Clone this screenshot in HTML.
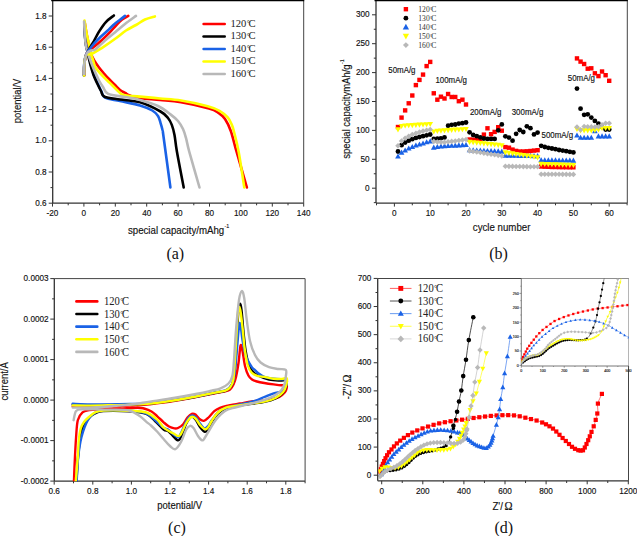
<!DOCTYPE html>
<html><head><meta charset="utf-8"><style>
html,body{margin:0;padding:0;background:#fff;}
svg{display:block;}
text[font-family="Liberation Sans"]{stroke:#111;stroke-width:0.14px;}
</style></head><body>
<svg width="637" height="536" viewBox="0 0 637 536">
<rect width="637" height="536" fill="#fff"/>
<line x1="52.7" y1="0.0" x2="52.7" y2="203.1" stroke="#333333" stroke-width="1.3"/><line x1="52.7" y1="203.1" x2="303.7" y2="203.1" stroke="#333333" stroke-width="1.3"/><line x1="303.7" y1="0.0" x2="303.7" y2="203.1" stroke="#444" stroke-width="1"/><line x1="51.2" y1="0" x2="304.2" y2="0" stroke="#000" stroke-width="2.4"/><line x1="48.7" y1="203.20" x2="52.7" y2="203.20" stroke="#333333" stroke-width="1"/><text transform="translate(46.60 205.80) scale(1 1.08)" font-family="Liberation Sans" font-size="8.2" text-anchor="end" fill="#111">0.6</text><line x1="48.7" y1="172.00" x2="52.7" y2="172.00" stroke="#333333" stroke-width="1"/><text transform="translate(46.60 174.60) scale(1 1.08)" font-family="Liberation Sans" font-size="8.2" text-anchor="end" fill="#111">0.8</text><line x1="48.7" y1="140.80" x2="52.7" y2="140.80" stroke="#333333" stroke-width="1"/><text transform="translate(46.60 143.40) scale(1 1.08)" font-family="Liberation Sans" font-size="8.2" text-anchor="end" fill="#111">1.0</text><line x1="48.7" y1="109.60" x2="52.7" y2="109.60" stroke="#333333" stroke-width="1"/><text transform="translate(46.60 112.20) scale(1 1.08)" font-family="Liberation Sans" font-size="8.2" text-anchor="end" fill="#111">1.2</text><line x1="48.7" y1="78.40" x2="52.7" y2="78.40" stroke="#333333" stroke-width="1"/><text transform="translate(46.60 81.00) scale(1 1.08)" font-family="Liberation Sans" font-size="8.2" text-anchor="end" fill="#111">1.4</text><line x1="48.7" y1="47.20" x2="52.7" y2="47.20" stroke="#333333" stroke-width="1"/><text transform="translate(46.60 49.80) scale(1 1.08)" font-family="Liberation Sans" font-size="8.2" text-anchor="end" fill="#111">1.6</text><line x1="48.7" y1="16.00" x2="52.7" y2="16.00" stroke="#333333" stroke-width="1"/><text transform="translate(46.60 18.60) scale(1 1.08)" font-family="Liberation Sans" font-size="8.2" text-anchor="end" fill="#111">1.8</text><line x1="50.5" y1="187.60" x2="52.7" y2="187.60" stroke="#333333" stroke-width="1"/><line x1="50.5" y1="156.40" x2="52.7" y2="156.40" stroke="#333333" stroke-width="1"/><line x1="50.5" y1="125.20" x2="52.7" y2="125.20" stroke="#333333" stroke-width="1"/><line x1="50.5" y1="94.00" x2="52.7" y2="94.00" stroke="#333333" stroke-width="1"/><line x1="50.5" y1="62.80" x2="52.7" y2="62.80" stroke="#333333" stroke-width="1"/><line x1="50.5" y1="31.60" x2="52.7" y2="31.60" stroke="#333333" stroke-width="1"/><line x1="52.50" y1="203.1" x2="52.50" y2="206.6" stroke="#333333" stroke-width="1"/><text transform="translate(52.50 216.30) scale(1 1.08)" font-family="Liberation Sans" font-size="8.2" text-anchor="middle" fill="#111">-20</text><line x1="83.90" y1="203.1" x2="83.90" y2="206.6" stroke="#333333" stroke-width="1"/><text transform="translate(83.90 216.30) scale(1 1.08)" font-family="Liberation Sans" font-size="8.2" text-anchor="middle" fill="#111">0</text><line x1="115.30" y1="203.1" x2="115.30" y2="206.6" stroke="#333333" stroke-width="1"/><text transform="translate(115.30 216.30) scale(1 1.08)" font-family="Liberation Sans" font-size="8.2" text-anchor="middle" fill="#111">20</text><line x1="146.70" y1="203.1" x2="146.70" y2="206.6" stroke="#333333" stroke-width="1"/><text transform="translate(146.70 216.30) scale(1 1.08)" font-family="Liberation Sans" font-size="8.2" text-anchor="middle" fill="#111">40</text><line x1="178.10" y1="203.1" x2="178.10" y2="206.6" stroke="#333333" stroke-width="1"/><text transform="translate(178.10 216.30) scale(1 1.08)" font-family="Liberation Sans" font-size="8.2" text-anchor="middle" fill="#111">60</text><line x1="209.50" y1="203.1" x2="209.50" y2="206.6" stroke="#333333" stroke-width="1"/><text transform="translate(209.50 216.30) scale(1 1.08)" font-family="Liberation Sans" font-size="8.2" text-anchor="middle" fill="#111">80</text><line x1="240.90" y1="203.1" x2="240.90" y2="206.6" stroke="#333333" stroke-width="1"/><text transform="translate(240.90 216.30) scale(1 1.08)" font-family="Liberation Sans" font-size="8.2" text-anchor="middle" fill="#111">100</text><line x1="272.30" y1="203.1" x2="272.30" y2="206.6" stroke="#333333" stroke-width="1"/><text transform="translate(272.30 216.30) scale(1 1.08)" font-family="Liberation Sans" font-size="8.2" text-anchor="middle" fill="#111">120</text><line x1="303.70" y1="203.1" x2="303.70" y2="206.6" stroke="#333333" stroke-width="1"/><text transform="translate(303.70 216.30) scale(1 1.08)" font-family="Liberation Sans" font-size="8.2" text-anchor="middle" fill="#111">140</text><line x1="68.20" y1="203.1" x2="68.20" y2="205.29999999999998" stroke="#333333" stroke-width="1"/><line x1="99.60" y1="203.1" x2="99.60" y2="205.29999999999998" stroke="#333333" stroke-width="1"/><line x1="131.00" y1="203.1" x2="131.00" y2="205.29999999999998" stroke="#333333" stroke-width="1"/><line x1="162.40" y1="203.1" x2="162.40" y2="205.29999999999998" stroke="#333333" stroke-width="1"/><line x1="193.80" y1="203.1" x2="193.80" y2="205.29999999999998" stroke="#333333" stroke-width="1"/><line x1="225.20" y1="203.1" x2="225.20" y2="205.29999999999998" stroke="#333333" stroke-width="1"/><line x1="256.60" y1="203.1" x2="256.60" y2="205.29999999999998" stroke="#333333" stroke-width="1"/><line x1="288.00" y1="203.1" x2="288.00" y2="205.29999999999998" stroke="#333333" stroke-width="1"/><text transform="translate(21.4 100.9) rotate(-90) scale(1 1.08)" font-family="Liberation Sans" font-size="9.45" text-anchor="middle" fill="#111">potential/V</text><text transform="translate(127.9 233.6) scale(1 1.08)" font-family="Liberation Sans" font-size="9.7" fill="#111">special capacity/mAhg<tspan font-size="5.4" dy="-5.3" dx="0.3" style="stroke-width:0.1" fill="#111">-1</tspan></text><text x="175.30" y="259.30" font-family="Liberation Serif" font-size="16" text-anchor="middle" fill="#111">(a)</text><path d="M84.80,23.00 C85.13,25.00 86.07,31.17 86.80,35.00 C87.53,38.83 88.50,42.83 89.20,46.00 C89.90,49.17 90.12,51.50 91.00,54.00 C91.88,56.50 93.17,58.75 94.50,61.00 C95.83,63.25 97.42,65.42 99.00,67.50 C100.58,69.58 102.33,71.58 104.00,73.50 C105.67,75.42 107.17,77.08 109.00,79.00 C110.83,80.92 113.17,83.17 115.00,85.00 C116.83,86.83 118.30,88.67 120.00,90.00 C121.70,91.33 123.53,92.08 125.20,93.00 C126.87,93.92 127.53,94.63 130.00,95.50 C132.47,96.37 135.00,97.45 140.00,98.20 C145.00,98.95 153.17,99.32 160.00,100.00 C166.83,100.68 172.83,100.88 181.00,102.30 C189.17,103.72 202.75,106.75 209.00,108.50 C215.25,110.25 215.83,111.05 218.50,112.80 C221.17,114.55 222.95,115.97 225.00,119.00 C227.05,122.03 228.88,125.58 230.80,131.00 C232.72,136.42 233.82,142.08 236.50,151.50 C239.18,160.92 245.17,181.50 246.90,187.50" fill="none" stroke="#ff0000" stroke-width="2.6" stroke-linecap="round" stroke-linejoin="round"/><path d="M84.30,22.00 C84.40,24.17 84.62,31.17 84.90,35.00 C85.18,38.83 85.55,42.17 86.00,45.00 C86.45,47.83 87.02,49.67 87.60,52.00 C88.18,54.33 88.85,56.50 89.50,59.00 C90.15,61.50 90.75,64.33 91.50,67.00 C92.25,69.67 93.00,72.33 94.00,75.00 C95.00,77.67 96.25,80.25 97.50,83.00 C98.75,85.75 100.25,89.07 101.50,91.50 C102.75,93.93 101.92,96.02 105.00,97.60 C108.08,99.18 114.17,99.70 120.00,101.00 C125.83,102.30 134.62,103.82 140.00,105.40 C145.38,106.98 149.30,108.73 152.30,110.50 C155.30,112.27 156.63,113.95 158.00,116.00 C159.37,118.05 159.75,120.47 160.50,122.80 C161.25,125.13 161.98,127.60 162.50,130.00 C163.02,132.40 162.28,127.62 163.60,137.20 C164.92,146.78 169.27,179.12 170.40,187.50" fill="none" stroke="#1a62e6" stroke-width="2.6" stroke-linecap="round" stroke-linejoin="round"/><path d="M84.30,22.00 C84.40,24.17 84.62,31.17 84.90,35.00 C85.18,38.83 85.55,42.17 86.00,45.00 C86.45,47.83 87.10,49.67 87.60,52.00 C88.10,54.33 88.43,56.50 89.00,59.00 C89.57,61.50 90.25,64.33 91.00,67.00 C91.75,69.67 92.50,72.33 93.50,75.00 C94.50,77.67 95.75,80.33 97.00,83.00 C98.25,85.67 99.75,88.72 101.00,91.00 C102.25,93.28 101.33,95.28 104.50,96.70 C107.67,98.12 114.08,98.57 120.00,99.50 C125.92,100.43 133.25,100.30 140.00,102.30 C146.75,104.30 155.83,108.88 160.50,111.50 C165.17,114.12 166.12,115.77 168.00,118.00 C169.88,120.23 170.72,122.07 171.80,124.90 C172.88,127.73 173.65,130.57 174.50,135.00 C175.35,139.43 175.37,142.75 176.90,151.50 C178.43,160.25 182.57,181.50 183.70,187.50" fill="none" stroke="#000000" stroke-width="2.6" stroke-linecap="round" stroke-linejoin="round"/><path d="M84.50,20.50 C84.83,22.58 85.75,29.08 86.50,33.00 C87.25,36.92 88.28,40.67 89.00,44.00 C89.72,47.33 90.13,50.33 90.80,53.00 C91.47,55.67 92.20,57.58 93.00,60.00 C93.80,62.42 94.08,64.93 95.60,67.50 C97.12,70.07 99.70,72.82 102.10,75.40 C104.50,77.98 107.52,80.57 110.00,83.00 C112.48,85.43 115.00,88.08 117.00,90.00 C119.00,91.92 120.17,93.53 122.00,94.50 C123.83,95.47 125.00,95.45 128.00,95.80 C131.00,96.15 134.67,96.15 140.00,96.60 C145.33,97.05 153.17,97.85 160.00,98.50 C166.83,99.15 173.05,99.22 181.00,100.50 C188.95,101.78 201.28,104.48 207.70,106.20 C214.12,107.92 216.20,108.97 219.50,110.80 C222.80,112.63 225.50,115.00 227.50,117.20 C229.50,119.40 230.45,121.70 231.50,124.00 C232.55,126.30 232.62,126.42 233.80,131.00 C234.98,135.58 236.85,142.08 238.60,151.50 C240.35,160.92 243.35,181.50 244.30,187.50" fill="none" stroke="#ffff00" stroke-width="2.6" stroke-linecap="round" stroke-linejoin="round"/><path d="M84.10,21.50 C84.22,23.75 84.52,31.08 84.80,35.00 C85.08,38.92 85.35,42.17 85.80,45.00 C86.25,47.83 86.88,49.83 87.50,52.00 C88.12,54.17 88.67,55.67 89.50,58.00 C90.33,60.33 91.50,63.50 92.50,66.00 C93.50,68.50 94.42,70.58 95.50,73.00 C96.58,75.42 97.75,78.17 99.00,80.50 C100.25,82.83 101.47,84.77 103.00,87.00 C104.53,89.23 104.53,92.23 108.20,93.90 C111.87,95.57 119.70,95.98 125.00,97.00 C130.30,98.02 134.50,98.50 140.00,100.00 C145.50,101.50 152.87,103.57 158.00,106.00 C163.13,108.43 167.47,112.10 170.80,114.60 C174.13,117.10 175.97,118.60 178.00,121.00 C180.03,123.40 181.67,126.17 183.00,129.00 C184.33,131.83 184.97,134.25 186.00,138.00 C187.03,141.75 186.95,143.25 189.20,151.50 C191.45,159.75 197.78,181.50 199.50,187.50" fill="none" stroke="#b8b8b8" stroke-width="2.6" stroke-linecap="round" stroke-linejoin="round"/><path d="M84.10,75.40 C84.13,73.67 84.07,68.07 84.30,65.00 C84.53,61.93 84.97,59.17 85.50,57.00 C86.03,54.83 86.75,53.58 87.50,52.00 C88.25,50.42 89.08,49.05 90.00,47.50 C90.92,45.95 91.42,45.47 93.00,42.70 C94.58,39.93 97.32,34.38 99.50,30.90 C101.68,27.42 103.70,24.37 106.10,21.80 C108.50,19.23 112.60,16.55 113.90,15.50" fill="none" stroke="#000000" stroke-width="2.6" stroke-linecap="round" stroke-linejoin="round"/><path d="M84.10,75.40 C84.13,73.67 84.07,68.07 84.30,65.00 C84.53,61.93 84.97,59.17 85.50,57.00 C86.03,54.83 86.67,53.25 87.50,52.00 C88.33,50.75 89.37,50.40 90.50,49.50 C91.63,48.60 92.38,48.18 94.30,46.60 C96.22,45.02 99.38,42.40 102.00,40.00 C104.62,37.60 107.67,34.62 110.00,32.20 C112.33,29.78 114.03,27.57 116.00,25.50 C117.97,23.43 119.75,21.40 121.80,19.80 C123.85,18.20 127.22,16.55 128.30,15.90" fill="none" stroke="#ff0000" stroke-width="2.6" stroke-linecap="round" stroke-linejoin="round"/><path d="M83.90,75.40 C83.93,73.67 83.87,68.07 84.10,65.00 C84.33,61.93 84.73,59.17 85.30,57.00 C85.87,54.83 86.63,53.50 87.50,52.00 C88.37,50.50 89.37,49.45 90.50,48.00 C91.63,46.55 92.55,45.22 94.30,43.30 C96.05,41.38 98.60,38.78 101.00,36.50 C103.40,34.22 106.53,31.60 108.70,29.60 C110.87,27.60 112.27,26.02 114.00,24.50 C115.73,22.98 117.27,21.93 119.10,20.50 C120.93,19.07 124.02,16.67 125.00,15.90" fill="none" stroke="#1a62e6" stroke-width="2.6" stroke-linecap="round" stroke-linejoin="round"/><path d="M84.10,75.60 C84.13,73.83 84.07,68.10 84.30,65.00 C84.53,61.90 84.97,58.83 85.50,57.00 C86.03,55.17 86.68,54.43 87.50,54.00 C88.32,53.57 88.98,54.82 90.40,54.40 C91.82,53.98 94.05,52.58 96.00,51.50 C97.95,50.42 98.90,50.02 102.10,47.90 C105.30,45.78 111.22,41.70 115.20,38.80 C119.18,35.90 122.53,32.80 126.00,30.50 C129.47,28.20 132.83,26.83 136.00,25.00 C139.17,23.17 141.85,20.93 145.00,19.50 C148.15,18.07 153.25,16.92 154.90,16.40" fill="none" stroke="#ffff00" stroke-width="2.6" stroke-linecap="round" stroke-linejoin="round"/><path d="M84.10,74.00 C84.13,72.50 84.07,67.83 84.30,65.00 C84.53,62.17 84.97,59.08 85.50,57.00 C86.03,54.92 86.58,53.58 87.50,52.50 C88.42,51.42 89.65,51.05 91.00,50.50 C92.35,49.95 93.27,50.87 95.60,49.20 C97.93,47.53 101.73,43.33 105.00,40.50 C108.27,37.67 111.87,34.95 115.20,32.20 C118.53,29.45 121.53,26.72 125.00,24.00 C128.47,21.28 134.17,17.25 136.00,15.90" fill="none" stroke="#b8b8b8" stroke-width="2.6" stroke-linecap="round" stroke-linejoin="round"/><line x1="203.6" y1="24.0" x2="224.7" y2="24.0" stroke="#ff0000" stroke-width="2.6" stroke-linecap="round"/><text transform="translate(230.50 26.90) scale(1 1.02)" font-family="Liberation Serif" font-size="10.6" fill="#222">120<tspan font-size="7.95" dy="-0.64" dx="0.32">°</tspan><tspan dy="0.64" dx="-1.27">C</tspan></text><line x1="203.6" y1="36.5" x2="224.7" y2="36.5" stroke="#000000" stroke-width="2.6" stroke-linecap="round"/><text transform="translate(230.50 39.40) scale(1 1.02)" font-family="Liberation Serif" font-size="10.6" fill="#222">130<tspan font-size="7.95" dy="-0.64" dx="0.32">°</tspan><tspan dy="0.64" dx="-1.27">C</tspan></text><line x1="203.6" y1="49.0" x2="224.7" y2="49.0" stroke="#1a62e6" stroke-width="2.6" stroke-linecap="round"/><text transform="translate(230.50 51.90) scale(1 1.02)" font-family="Liberation Serif" font-size="10.6" fill="#222">140<tspan font-size="7.95" dy="-0.64" dx="0.32">°</tspan><tspan dy="0.64" dx="-1.27">C</tspan></text><line x1="203.6" y1="61.5" x2="224.7" y2="61.5" stroke="#ffff00" stroke-width="2.6" stroke-linecap="round"/><text transform="translate(230.50 64.40) scale(1 1.02)" font-family="Liberation Serif" font-size="10.6" fill="#222">150<tspan font-size="7.95" dy="-0.64" dx="0.32">°</tspan><tspan dy="0.64" dx="-1.27">C</tspan></text><line x1="203.6" y1="74.0" x2="224.7" y2="74.0" stroke="#b8b8b8" stroke-width="2.6" stroke-linecap="round"/><text transform="translate(230.50 76.90) scale(1 1.02)" font-family="Liberation Serif" font-size="10.6" fill="#222">160<tspan font-size="7.95" dy="-0.64" dx="0.32">°</tspan><tspan dy="0.64" dx="-1.27">C</tspan></text><line x1="376.0" y1="0.0" x2="376.0" y2="203.1" stroke="#333333" stroke-width="1.3"/><line x1="376.0" y1="203.1" x2="627.3" y2="203.1" stroke="#333333" stroke-width="1.3"/><line x1="627.3" y1="0.0" x2="627.3" y2="203.1" stroke="#444" stroke-width="1"/><line x1="374.5" y1="0" x2="627.8" y2="0" stroke="#000" stroke-width="2.4"/><line x1="372.0" y1="188.20" x2="376.0" y2="188.20" stroke="#333333" stroke-width="1"/><text transform="translate(369.60 190.80) scale(1 1.08)" font-family="Liberation Sans" font-size="8.2" text-anchor="end" fill="#111">0</text><line x1="372.0" y1="159.30" x2="376.0" y2="159.30" stroke="#333333" stroke-width="1"/><text transform="translate(369.60 161.90) scale(1 1.08)" font-family="Liberation Sans" font-size="8.2" text-anchor="end" fill="#111">50</text><line x1="372.0" y1="130.40" x2="376.0" y2="130.40" stroke="#333333" stroke-width="1"/><text transform="translate(369.60 133.00) scale(1 1.08)" font-family="Liberation Sans" font-size="8.2" text-anchor="end" fill="#111">100</text><line x1="372.0" y1="101.50" x2="376.0" y2="101.50" stroke="#333333" stroke-width="1"/><text transform="translate(369.60 104.10) scale(1 1.08)" font-family="Liberation Sans" font-size="8.2" text-anchor="end" fill="#111">150</text><line x1="372.0" y1="72.60" x2="376.0" y2="72.60" stroke="#333333" stroke-width="1"/><text transform="translate(369.60 75.20) scale(1 1.08)" font-family="Liberation Sans" font-size="8.2" text-anchor="end" fill="#111">200</text><line x1="372.0" y1="43.70" x2="376.0" y2="43.70" stroke="#333333" stroke-width="1"/><text transform="translate(369.60 46.30) scale(1 1.08)" font-family="Liberation Sans" font-size="8.2" text-anchor="end" fill="#111">250</text><line x1="372.0" y1="14.80" x2="376.0" y2="14.80" stroke="#333333" stroke-width="1"/><text transform="translate(369.60 17.40) scale(1 1.08)" font-family="Liberation Sans" font-size="8.2" text-anchor="end" fill="#111">300</text><line x1="373.8" y1="202.65" x2="376.0" y2="202.65" stroke="#333333" stroke-width="1"/><line x1="373.8" y1="173.75" x2="376.0" y2="173.75" stroke="#333333" stroke-width="1"/><line x1="373.8" y1="144.85" x2="376.0" y2="144.85" stroke="#333333" stroke-width="1"/><line x1="373.8" y1="115.95" x2="376.0" y2="115.95" stroke="#333333" stroke-width="1"/><line x1="373.8" y1="87.05" x2="376.0" y2="87.05" stroke="#333333" stroke-width="1"/><line x1="373.8" y1="58.15" x2="376.0" y2="58.15" stroke="#333333" stroke-width="1"/><line x1="373.8" y1="29.25" x2="376.0" y2="29.25" stroke="#333333" stroke-width="1"/><line x1="394.40" y1="203.1" x2="394.40" y2="206.6" stroke="#333333" stroke-width="1"/><text transform="translate(394.40 215.80) scale(1 1.08)" font-family="Liberation Sans" font-size="8.2" text-anchor="middle" fill="#111">0</text><line x1="430.20" y1="203.1" x2="430.20" y2="206.6" stroke="#333333" stroke-width="1"/><text transform="translate(430.20 215.80) scale(1 1.08)" font-family="Liberation Sans" font-size="8.2" text-anchor="middle" fill="#111">10</text><line x1="466.00" y1="203.1" x2="466.00" y2="206.6" stroke="#333333" stroke-width="1"/><text transform="translate(466.00 215.80) scale(1 1.08)" font-family="Liberation Sans" font-size="8.2" text-anchor="middle" fill="#111">20</text><line x1="501.80" y1="203.1" x2="501.80" y2="206.6" stroke="#333333" stroke-width="1"/><text transform="translate(501.80 215.80) scale(1 1.08)" font-family="Liberation Sans" font-size="8.2" text-anchor="middle" fill="#111">30</text><line x1="537.60" y1="203.1" x2="537.60" y2="206.6" stroke="#333333" stroke-width="1"/><text transform="translate(537.60 215.80) scale(1 1.08)" font-family="Liberation Sans" font-size="8.2" text-anchor="middle" fill="#111">40</text><line x1="573.40" y1="203.1" x2="573.40" y2="206.6" stroke="#333333" stroke-width="1"/><text transform="translate(573.40 215.80) scale(1 1.08)" font-family="Liberation Sans" font-size="8.2" text-anchor="middle" fill="#111">50</text><line x1="609.20" y1="203.1" x2="609.20" y2="206.6" stroke="#333333" stroke-width="1"/><text transform="translate(609.20 215.80) scale(1 1.08)" font-family="Liberation Sans" font-size="8.2" text-anchor="middle" fill="#111">60</text><line x1="376.50" y1="203.1" x2="376.50" y2="205.29999999999998" stroke="#333333" stroke-width="1"/><line x1="412.30" y1="203.1" x2="412.30" y2="205.29999999999998" stroke="#333333" stroke-width="1"/><line x1="448.10" y1="203.1" x2="448.10" y2="205.29999999999998" stroke="#333333" stroke-width="1"/><line x1="483.90" y1="203.1" x2="483.90" y2="205.29999999999998" stroke="#333333" stroke-width="1"/><line x1="519.70" y1="203.1" x2="519.70" y2="205.29999999999998" stroke="#333333" stroke-width="1"/><line x1="555.50" y1="203.1" x2="555.50" y2="205.29999999999998" stroke="#333333" stroke-width="1"/><line x1="591.30" y1="203.1" x2="591.30" y2="205.29999999999998" stroke="#333333" stroke-width="1"/><line x1="627.10" y1="203.1" x2="627.10" y2="205.29999999999998" stroke="#333333" stroke-width="1"/><text transform="translate(349.8 158.8) rotate(-90) scale(1 1.08)" font-family="Liberation Sans" font-size="9.5" fill="#111">special capacitymAh/g<tspan font-size="5.4" dy="-5.3" dx="0.3" style="stroke-width:0.1" fill="#111">-1</tspan></text><text transform="translate(501.60 231.00) scale(1 1.08)" font-family="Liberation Sans" font-size="9.7" text-anchor="middle" fill="#111">cycle number</text><text x="498.50" y="259.30" font-family="Liberation Serif" font-size="16" text-anchor="middle" fill="#111">(b)</text><text transform="translate(388.30 73.30) scale(1 1.08)" font-family="Liberation Sans" font-size="7.9" text-anchor="start" fill="#111">50mA/g</text><text transform="translate(435.40 82.60) scale(1 1.08)" font-family="Liberation Sans" font-size="7.9" text-anchor="start" fill="#111">100mA/g</text><text transform="translate(469.90 115.20) scale(1 1.08)" font-family="Liberation Sans" font-size="7.9" text-anchor="start" fill="#111">200mA/g</text><text transform="translate(511.70 115.20) scale(1 1.08)" font-family="Liberation Sans" font-size="7.9" text-anchor="start" fill="#111">300mA/g</text><text transform="translate(541.50 137.70) scale(1 1.08)" font-family="Liberation Sans" font-size="7.9" text-anchor="start" fill="#111">500mA/g</text><text transform="translate(567.80 80.70) scale(1 1.08)" font-family="Liberation Sans" font-size="7.9" text-anchor="start" fill="#111">50mA/g</text><rect x="395.78" y="124.80" width="4.4" height="4.4" fill="#ff0000"/><rect x="399.36" y="115.40" width="4.4" height="4.4" fill="#ff0000"/><rect x="402.94" y="108.20" width="4.4" height="4.4" fill="#ff0000"/><rect x="406.52" y="101.10" width="4.4" height="4.4" fill="#ff0000"/><rect x="410.10" y="93.30" width="4.4" height="4.4" fill="#ff0000"/><rect x="413.68" y="82.90" width="4.4" height="4.4" fill="#ff0000"/><rect x="417.26" y="77.70" width="4.4" height="4.4" fill="#ff0000"/><rect x="420.84" y="72.40" width="4.4" height="4.4" fill="#ff0000"/><rect x="424.42" y="63.90" width="4.4" height="4.4" fill="#ff0000"/><rect x="428.00" y="59.70" width="4.4" height="4.4" fill="#ff0000"/><rect x="431.58" y="91.10" width="4.4" height="4.4" fill="#ff0000"/><rect x="435.16" y="97.50" width="4.4" height="4.4" fill="#ff0000"/><rect x="438.74" y="94.50" width="4.4" height="4.4" fill="#ff0000"/><rect x="442.32" y="96.30" width="4.4" height="4.4" fill="#ff0000"/><rect x="445.90" y="91.80" width="4.4" height="4.4" fill="#ff0000"/><rect x="449.48" y="94.80" width="4.4" height="4.4" fill="#ff0000"/><rect x="453.06" y="94.80" width="4.4" height="4.4" fill="#ff0000"/><rect x="456.64" y="99.00" width="4.4" height="4.4" fill="#ff0000"/><rect x="460.22" y="97.50" width="4.4" height="4.4" fill="#ff0000"/><rect x="463.80" y="102.30" width="4.4" height="4.4" fill="#ff0000"/><rect x="467.38" y="137.30" width="4.4" height="4.4" fill="#ff0000"/><rect x="470.96" y="137.60" width="4.4" height="4.4" fill="#ff0000"/><rect x="474.54" y="137.30" width="4.4" height="4.4" fill="#ff0000"/><rect x="478.12" y="137.00" width="4.4" height="4.4" fill="#ff0000"/><rect x="481.70" y="132.40" width="4.4" height="4.4" fill="#ff0000"/><rect x="485.28" y="126.10" width="4.4" height="4.4" fill="#ff0000"/><rect x="488.86" y="132.00" width="4.4" height="4.4" fill="#ff0000"/><rect x="492.44" y="129.70" width="4.4" height="4.4" fill="#ff0000"/><rect x="496.02" y="125.00" width="4.4" height="4.4" fill="#ff0000"/><rect x="499.60" y="128.50" width="4.4" height="4.4" fill="#ff0000"/><rect x="503.18" y="144.90" width="4.4" height="4.4" fill="#ff0000"/><rect x="506.76" y="145.50" width="4.4" height="4.4" fill="#ff0000"/><rect x="510.34" y="147.40" width="4.4" height="4.4" fill="#ff0000"/><rect x="513.92" y="148.70" width="4.4" height="4.4" fill="#ff0000"/><rect x="517.50" y="149.30" width="4.4" height="4.4" fill="#ff0000"/><rect x="521.08" y="149.30" width="4.4" height="4.4" fill="#ff0000"/><rect x="524.66" y="149.10" width="4.4" height="4.4" fill="#ff0000"/><rect x="528.24" y="148.80" width="4.4" height="4.4" fill="#ff0000"/><rect x="531.82" y="148.40" width="4.4" height="4.4" fill="#ff0000"/><rect x="535.40" y="148.00" width="4.4" height="4.4" fill="#ff0000"/><rect x="538.98" y="164.30" width="4.4" height="4.4" fill="#ff0000"/><rect x="542.56" y="164.50" width="4.4" height="4.4" fill="#ff0000"/><rect x="546.14" y="164.60" width="4.4" height="4.4" fill="#ff0000"/><rect x="549.72" y="164.80" width="4.4" height="4.4" fill="#ff0000"/><rect x="553.30" y="164.80" width="4.4" height="4.4" fill="#ff0000"/><rect x="556.88" y="164.90" width="4.4" height="4.4" fill="#ff0000"/><rect x="560.46" y="165.00" width="4.4" height="4.4" fill="#ff0000"/><rect x="564.04" y="165.00" width="4.4" height="4.4" fill="#ff0000"/><rect x="567.62" y="165.10" width="4.4" height="4.4" fill="#ff0000"/><rect x="571.20" y="165.10" width="4.4" height="4.4" fill="#ff0000"/><rect x="574.78" y="56.20" width="4.4" height="4.4" fill="#ff0000"/><rect x="578.36" y="59.40" width="4.4" height="4.4" fill="#ff0000"/><rect x="581.94" y="61.80" width="4.4" height="4.4" fill="#ff0000"/><rect x="585.52" y="66.50" width="4.4" height="4.4" fill="#ff0000"/><rect x="589.10" y="66.10" width="4.4" height="4.4" fill="#ff0000"/><rect x="592.68" y="71.10" width="4.4" height="4.4" fill="#ff0000"/><rect x="596.26" y="73.90" width="4.4" height="4.4" fill="#ff0000"/><rect x="599.84" y="69.30" width="4.4" height="4.4" fill="#ff0000"/><rect x="603.42" y="73.00" width="4.4" height="4.4" fill="#ff0000"/><rect x="607.00" y="78.60" width="4.4" height="4.4" fill="#ff0000"/><circle cx="397.98" cy="151.50" r="2.4" fill="#000000"/><circle cx="401.56" cy="145.20" r="2.4" fill="#000000"/><circle cx="405.14" cy="142.50" r="2.4" fill="#000000"/><circle cx="408.72" cy="140.70" r="2.4" fill="#000000"/><circle cx="412.30" cy="139.20" r="2.4" fill="#000000"/><circle cx="415.88" cy="137.90" r="2.4" fill="#000000"/><circle cx="419.46" cy="137.00" r="2.4" fill="#000000"/><circle cx="423.04" cy="136.20" r="2.4" fill="#000000"/><circle cx="426.62" cy="135.30" r="2.4" fill="#000000"/><circle cx="430.20" cy="134.50" r="2.4" fill="#000000"/><circle cx="433.78" cy="138.90" r="2.4" fill="#000000"/><circle cx="437.36" cy="138.60" r="2.4" fill="#000000"/><circle cx="440.94" cy="138.30" r="2.4" fill="#000000"/><circle cx="444.52" cy="137.40" r="2.4" fill="#000000"/><circle cx="448.10" cy="125.70" r="2.4" fill="#000000"/><circle cx="451.68" cy="124.80" r="2.4" fill="#000000"/><circle cx="455.26" cy="124.50" r="2.4" fill="#000000"/><circle cx="458.84" cy="123.60" r="2.4" fill="#000000"/><circle cx="462.42" cy="123.20" r="2.4" fill="#000000"/><circle cx="466.00" cy="122.50" r="2.4" fill="#000000"/><circle cx="469.58" cy="132.30" r="2.4" fill="#000000"/><circle cx="473.16" cy="135.00" r="2.4" fill="#000000"/><circle cx="476.74" cy="136.20" r="2.4" fill="#000000"/><circle cx="480.32" cy="137.40" r="2.4" fill="#000000"/><circle cx="483.90" cy="138.50" r="2.4" fill="#000000"/><circle cx="487.48" cy="138.90" r="2.4" fill="#000000"/><circle cx="491.06" cy="138.90" r="2.4" fill="#000000"/><circle cx="494.64" cy="138.90" r="2.4" fill="#000000"/><circle cx="498.22" cy="130.30" r="2.4" fill="#000000"/><circle cx="501.80" cy="124.40" r="2.4" fill="#000000"/><circle cx="505.38" cy="136.30" r="2.4" fill="#000000"/><circle cx="508.96" cy="137.60" r="2.4" fill="#000000"/><circle cx="512.54" cy="140.70" r="2.4" fill="#000000"/><circle cx="516.12" cy="133.80" r="2.4" fill="#000000"/><circle cx="519.70" cy="130.00" r="2.4" fill="#000000"/><circle cx="523.28" cy="132.00" r="2.4" fill="#000000"/><circle cx="526.86" cy="126.30" r="2.4" fill="#000000"/><circle cx="530.44" cy="128.20" r="2.4" fill="#000000"/><circle cx="534.02" cy="134.40" r="2.4" fill="#000000"/><circle cx="537.60" cy="132.60" r="2.4" fill="#000000"/><circle cx="541.18" cy="145.80" r="2.4" fill="#000000"/><circle cx="544.76" cy="147.00" r="2.4" fill="#000000"/><circle cx="548.34" cy="147.80" r="2.4" fill="#000000"/><circle cx="551.92" cy="148.50" r="2.4" fill="#000000"/><circle cx="555.50" cy="149.20" r="2.4" fill="#000000"/><circle cx="559.08" cy="150.00" r="2.4" fill="#000000"/><circle cx="562.66" cy="150.60" r="2.4" fill="#000000"/><circle cx="566.24" cy="151.20" r="2.4" fill="#000000"/><circle cx="569.82" cy="151.80" r="2.4" fill="#000000"/><circle cx="573.40" cy="152.40" r="2.4" fill="#000000"/><circle cx="576.98" cy="88.60" r="2.4" fill="#000000"/><circle cx="580.56" cy="108.70" r="2.4" fill="#000000"/><circle cx="584.14" cy="114.80" r="2.4" fill="#000000"/><circle cx="587.72" cy="114.30" r="2.4" fill="#000000"/><circle cx="591.30" cy="117.60" r="2.4" fill="#000000"/><circle cx="594.88" cy="120.90" r="2.4" fill="#000000"/><circle cx="598.46" cy="123.70" r="2.4" fill="#000000"/><circle cx="602.04" cy="127.00" r="2.4" fill="#000000"/><circle cx="605.62" cy="129.50" r="2.4" fill="#000000"/><circle cx="609.20" cy="129.50" r="2.4" fill="#000000"/><path d="M397.98,153.42 L400.83,158.55 L395.13,158.55Z" fill="#1a62e6"/><path d="M401.56,149.62 L404.41,154.75 L398.71,154.75Z" fill="#1a62e6"/><path d="M405.14,147.42 L407.99,152.55 L402.29,152.55Z" fill="#1a62e6"/><path d="M408.72,145.42 L411.57,150.55 L405.87,150.55Z" fill="#1a62e6"/><path d="M412.30,143.92 L415.15,149.05 L409.45,149.05Z" fill="#1a62e6"/><path d="M415.88,142.42 L418.73,147.55 L413.03,147.55Z" fill="#1a62e6"/><path d="M419.46,141.42 L422.31,146.55 L416.61,146.55Z" fill="#1a62e6"/><path d="M423.04,140.42 L425.89,145.55 L420.19,145.55Z" fill="#1a62e6"/><path d="M426.62,139.22 L429.47,144.35 L423.77,144.35Z" fill="#1a62e6"/><path d="M430.20,138.32 L433.05,143.45 L427.35,143.45Z" fill="#1a62e6"/><path d="M433.78,144.62 L436.63,149.75 L430.93,149.75Z" fill="#1a62e6"/><path d="M437.36,143.92 L440.21,149.05 L434.51,149.05Z" fill="#1a62e6"/><path d="M440.94,143.42 L443.79,148.55 L438.09,148.55Z" fill="#1a62e6"/><path d="M444.52,143.12 L447.37,148.25 L441.67,148.25Z" fill="#1a62e6"/><path d="M448.10,142.92 L450.95,148.05 L445.25,148.05Z" fill="#1a62e6"/><path d="M451.68,142.72 L454.53,147.85 L448.83,147.85Z" fill="#1a62e6"/><path d="M455.26,142.52 L458.11,147.65 L452.41,147.65Z" fill="#1a62e6"/><path d="M458.84,142.32 L461.69,147.45 L455.99,147.45Z" fill="#1a62e6"/><path d="M462.42,142.12 L465.27,147.25 L459.57,147.25Z" fill="#1a62e6"/><path d="M466.00,141.92 L468.85,147.05 L463.15,147.05Z" fill="#1a62e6"/><path d="M469.58,147.12 L472.43,152.25 L466.73,152.25Z" fill="#1a62e6"/><path d="M473.16,147.28 L476.01,152.41 L470.31,152.41Z" fill="#1a62e6"/><path d="M476.74,147.43 L479.59,152.56 L473.89,152.56Z" fill="#1a62e6"/><path d="M480.32,147.59 L483.17,152.72 L477.47,152.72Z" fill="#1a62e6"/><path d="M483.90,147.74 L486.75,152.87 L481.05,152.87Z" fill="#1a62e6"/><path d="M487.48,147.90 L490.33,153.03 L484.63,153.03Z" fill="#1a62e6"/><path d="M491.06,148.06 L493.91,153.19 L488.21,153.19Z" fill="#1a62e6"/><path d="M494.64,148.21 L497.49,153.34 L491.79,153.34Z" fill="#1a62e6"/><path d="M498.22,148.37 L501.07,153.50 L495.37,153.50Z" fill="#1a62e6"/><path d="M501.80,148.52 L504.65,153.65 L498.95,153.65Z" fill="#1a62e6"/><path d="M505.38,152.52 L508.23,157.65 L502.53,157.65Z" fill="#1a62e6"/><path d="M508.96,152.59 L511.81,157.72 L506.11,157.72Z" fill="#1a62e6"/><path d="M512.54,152.66 L515.39,157.79 L509.69,157.79Z" fill="#1a62e6"/><path d="M516.12,152.72 L518.97,157.85 L513.27,157.85Z" fill="#1a62e6"/><path d="M519.70,152.79 L522.55,157.92 L516.85,157.92Z" fill="#1a62e6"/><path d="M523.28,152.86 L526.13,157.99 L520.43,157.99Z" fill="#1a62e6"/><path d="M526.86,152.92 L529.71,158.05 L524.01,158.05Z" fill="#1a62e6"/><path d="M530.44,152.99 L533.29,158.12 L527.59,158.12Z" fill="#1a62e6"/><path d="M534.02,153.06 L536.87,158.19 L531.17,158.19Z" fill="#1a62e6"/><path d="M537.60,153.12 L540.45,158.25 L534.75,158.25Z" fill="#1a62e6"/><path d="M541.18,157.22 L544.03,162.35 L538.33,162.35Z" fill="#1a62e6"/><path d="M544.76,157.26 L547.61,162.39 L541.91,162.39Z" fill="#1a62e6"/><path d="M548.34,157.29 L551.19,162.42 L545.49,162.42Z" fill="#1a62e6"/><path d="M551.92,157.32 L554.77,162.45 L549.07,162.45Z" fill="#1a62e6"/><path d="M555.50,157.36 L558.35,162.49 L552.65,162.49Z" fill="#1a62e6"/><path d="M559.08,157.39 L561.93,162.52 L556.23,162.52Z" fill="#1a62e6"/><path d="M562.66,157.42 L565.51,162.55 L559.81,162.55Z" fill="#1a62e6"/><path d="M566.24,157.46 L569.09,162.59 L563.39,162.59Z" fill="#1a62e6"/><path d="M569.82,157.49 L572.67,162.62 L566.97,162.62Z" fill="#1a62e6"/><path d="M573.40,157.52 L576.25,162.65 L570.55,162.65Z" fill="#1a62e6"/><path d="M576.98,132.42 L579.83,137.55 L574.13,137.55Z" fill="#1a62e6"/><path d="M580.56,134.72 L583.41,139.85 L577.71,139.85Z" fill="#1a62e6"/><path d="M584.14,134.72 L586.99,139.85 L581.29,139.85Z" fill="#1a62e6"/><path d="M587.72,134.72 L590.57,139.85 L584.87,139.85Z" fill="#1a62e6"/><path d="M591.30,134.72 L594.15,139.85 L588.45,139.85Z" fill="#1a62e6"/><path d="M594.88,128.22 L597.73,133.35 L592.03,133.35Z" fill="#1a62e6"/><path d="M598.46,133.32 L601.31,138.45 L595.61,138.45Z" fill="#1a62e6"/><path d="M602.04,133.32 L604.89,138.45 L599.19,138.45Z" fill="#1a62e6"/><path d="M605.62,133.32 L608.47,138.45 L602.77,138.45Z" fill="#1a62e6"/><path d="M609.20,133.32 L612.05,138.45 L606.35,138.45Z" fill="#1a62e6"/><path d="M397.98,132.48 L400.83,127.35 L395.13,127.35Z" fill="#ffff00"/><path d="M401.56,129.08 L404.41,123.95 L398.71,123.95Z" fill="#ffff00"/><path d="M405.14,128.58 L407.99,123.45 L402.29,123.45Z" fill="#ffff00"/><path d="M408.72,128.36 L411.57,123.23 L405.87,123.23Z" fill="#ffff00"/><path d="M412.30,128.15 L415.15,123.02 L409.45,123.02Z" fill="#ffff00"/><path d="M415.88,127.94 L418.73,122.81 L413.03,122.81Z" fill="#ffff00"/><path d="M419.46,127.72 L422.31,122.59 L416.61,122.59Z" fill="#ffff00"/><path d="M423.04,127.51 L425.89,122.38 L420.19,122.38Z" fill="#ffff00"/><path d="M426.62,127.29 L429.47,122.16 L423.77,122.16Z" fill="#ffff00"/><path d="M430.20,127.08 L433.05,121.95 L427.35,121.95Z" fill="#ffff00"/><path d="M433.78,134.58 L436.63,129.45 L430.93,129.45Z" fill="#ffff00"/><path d="M437.36,133.88 L440.21,128.75 L434.51,128.75Z" fill="#ffff00"/><path d="M440.94,133.65 L443.79,128.52 L438.09,128.52Z" fill="#ffff00"/><path d="M444.52,133.43 L447.37,128.30 L441.67,128.30Z" fill="#ffff00"/><path d="M448.10,133.20 L450.95,128.07 L445.25,128.07Z" fill="#ffff00"/><path d="M451.68,132.98 L454.53,127.85 L448.83,127.85Z" fill="#ffff00"/><path d="M455.26,132.75 L458.11,127.62 L452.41,127.62Z" fill="#ffff00"/><path d="M458.84,132.53 L461.69,127.40 L455.99,127.40Z" fill="#ffff00"/><path d="M462.42,132.30 L465.27,127.17 L459.57,127.17Z" fill="#ffff00"/><path d="M466.00,132.08 L468.85,126.95 L463.15,126.95Z" fill="#ffff00"/><path d="M469.58,144.88 L472.43,139.75 L466.73,139.75Z" fill="#ffff00"/><path d="M473.16,145.26 L476.01,140.13 L470.31,140.13Z" fill="#ffff00"/><path d="M476.74,145.63 L479.59,140.50 L473.89,140.50Z" fill="#ffff00"/><path d="M480.32,146.01 L483.17,140.88 L477.47,140.88Z" fill="#ffff00"/><path d="M483.90,146.39 L486.75,141.26 L481.05,141.26Z" fill="#ffff00"/><path d="M487.48,146.77 L490.33,141.64 L484.63,141.64Z" fill="#ffff00"/><path d="M491.06,147.14 L493.91,142.01 L488.21,142.01Z" fill="#ffff00"/><path d="M494.64,147.52 L497.49,142.39 L491.79,142.39Z" fill="#ffff00"/><path d="M498.22,147.90 L501.07,142.77 L495.37,142.77Z" fill="#ffff00"/><path d="M501.80,148.28 L504.65,143.15 L498.95,143.15Z" fill="#ffff00"/><path d="M505.38,155.38 L508.23,150.25 L502.53,150.25Z" fill="#ffff00"/><path d="M508.96,155.93 L511.81,150.80 L506.11,150.80Z" fill="#ffff00"/><path d="M512.54,156.49 L515.39,151.36 L509.69,151.36Z" fill="#ffff00"/><path d="M516.12,157.04 L518.97,151.91 L513.27,151.91Z" fill="#ffff00"/><path d="M519.70,157.60 L522.55,152.47 L516.85,152.47Z" fill="#ffff00"/><path d="M523.28,158.16 L526.13,153.03 L520.43,153.03Z" fill="#ffff00"/><path d="M526.86,158.71 L529.71,153.58 L524.01,153.58Z" fill="#ffff00"/><path d="M530.44,159.27 L533.29,154.14 L527.59,154.14Z" fill="#ffff00"/><path d="M534.02,159.82 L536.87,154.69 L531.17,154.69Z" fill="#ffff00"/><path d="M537.60,160.38 L540.45,155.25 L534.75,155.25Z" fill="#ffff00"/><path d="M541.18,166.88 L544.03,161.75 L538.33,161.75Z" fill="#ffff00"/><path d="M544.76,167.01 L547.61,161.88 L541.91,161.88Z" fill="#ffff00"/><path d="M548.34,167.14 L551.19,162.01 L545.49,162.01Z" fill="#ffff00"/><path d="M551.92,167.28 L554.77,162.15 L549.07,162.15Z" fill="#ffff00"/><path d="M555.50,167.41 L558.35,162.28 L552.65,162.28Z" fill="#ffff00"/><path d="M559.08,167.54 L561.93,162.41 L556.23,162.41Z" fill="#ffff00"/><path d="M562.66,167.68 L565.51,162.55 L559.81,162.55Z" fill="#ffff00"/><path d="M566.24,167.81 L569.09,162.68 L563.39,162.68Z" fill="#ffff00"/><path d="M569.82,167.94 L572.67,162.81 L566.97,162.81Z" fill="#ffff00"/><path d="M573.40,168.08 L576.25,162.95 L570.55,162.95Z" fill="#ffff00"/><path d="M576.98,132.08 L579.83,126.95 L574.13,126.95Z" fill="#ffff00"/><path d="M580.56,133.38 L583.41,128.25 L577.71,128.25Z" fill="#ffff00"/><path d="M584.14,133.38 L586.99,128.25 L581.29,128.25Z" fill="#ffff00"/><path d="M587.72,133.38 L590.57,128.25 L584.87,128.25Z" fill="#ffff00"/><path d="M591.30,133.38 L594.15,128.25 L588.45,128.25Z" fill="#ffff00"/><path d="M594.88,133.08 L597.73,127.95 L592.03,127.95Z" fill="#ffff00"/><path d="M598.46,132.58 L601.31,127.45 L595.61,127.45Z" fill="#ffff00"/><path d="M602.04,131.08 L604.89,125.95 L599.19,125.95Z" fill="#ffff00"/><path d="M605.62,131.08 L608.47,125.95 L602.77,125.95Z" fill="#ffff00"/><path d="M609.20,131.08 L612.05,125.95 L606.35,125.95Z" fill="#ffff00"/><path d="M397.98,142.89 L400.78,145.70 L397.98,148.50 L395.17,145.70Z" fill="#b8b8b8"/><path d="M401.56,138.19 L404.37,141.00 L401.56,143.81 L398.75,141.00Z" fill="#b8b8b8"/><path d="M405.14,135.39 L407.94,138.20 L405.14,141.00 L402.33,138.20Z" fill="#b8b8b8"/><path d="M408.72,133.39 L411.52,136.20 L408.72,139.00 L405.91,136.20Z" fill="#b8b8b8"/><path d="M412.30,131.79 L415.10,134.60 L412.30,137.41 L409.49,134.60Z" fill="#b8b8b8"/><path d="M415.88,130.50 L418.69,133.30 L415.88,136.11 L413.07,133.30Z" fill="#b8b8b8"/><path d="M419.46,129.29 L422.26,132.10 L419.46,134.91 L416.65,132.10Z" fill="#b8b8b8"/><path d="M423.04,128.29 L425.84,131.10 L423.04,133.91 L420.23,131.10Z" fill="#b8b8b8"/><path d="M426.62,127.50 L429.43,130.30 L426.62,133.11 L423.81,130.30Z" fill="#b8b8b8"/><path d="M430.20,126.79 L433.00,129.60 L430.20,132.41 L427.39,129.60Z" fill="#b8b8b8"/><path d="M433.78,138.59 L436.58,141.40 L433.78,144.21 L430.97,141.40Z" fill="#b8b8b8"/><path d="M437.36,139.19 L440.16,142.00 L437.36,144.81 L434.55,142.00Z" fill="#b8b8b8"/><path d="M440.94,139.39 L443.75,142.20 L440.94,145.00 L438.13,142.20Z" fill="#b8b8b8"/><path d="M444.52,139.39 L447.32,142.20 L444.52,145.00 L441.71,142.20Z" fill="#b8b8b8"/><path d="M448.10,139.00 L450.90,141.80 L448.10,144.61 L445.29,141.80Z" fill="#b8b8b8"/><path d="M451.68,138.59 L454.48,141.40 L451.68,144.21 L448.87,141.40Z" fill="#b8b8b8"/><path d="M455.26,138.19 L458.06,141.00 L455.26,143.81 L452.45,141.00Z" fill="#b8b8b8"/><path d="M458.84,137.69 L461.64,140.50 L458.84,143.31 L456.03,140.50Z" fill="#b8b8b8"/><path d="M462.42,137.19 L465.22,140.00 L462.42,142.81 L459.61,140.00Z" fill="#b8b8b8"/><path d="M466.00,136.69 L468.81,139.50 L466.00,142.31 L463.19,139.50Z" fill="#b8b8b8"/><path d="M469.58,148.09 L472.38,150.90 L469.58,153.71 L466.77,150.90Z" fill="#b8b8b8"/><path d="M473.16,148.65 L475.96,151.46 L473.16,154.26 L470.35,151.46Z" fill="#b8b8b8"/><path d="M476.74,149.21 L479.55,152.01 L476.74,154.82 L473.94,152.01Z" fill="#b8b8b8"/><path d="M480.32,149.76 L483.12,152.57 L480.32,155.37 L477.51,152.57Z" fill="#b8b8b8"/><path d="M483.90,150.32 L486.70,153.12 L483.90,155.93 L481.09,153.12Z" fill="#b8b8b8"/><path d="M487.48,150.87 L490.28,153.68 L487.48,156.48 L484.67,153.68Z" fill="#b8b8b8"/><path d="M491.06,151.43 L493.86,154.23 L491.06,157.04 L488.25,154.23Z" fill="#b8b8b8"/><path d="M494.64,151.98 L497.44,154.79 L494.64,157.59 L491.83,154.79Z" fill="#b8b8b8"/><path d="M498.22,152.54 L501.02,155.34 L498.22,158.15 L495.41,155.34Z" fill="#b8b8b8"/><path d="M501.80,153.09 L504.60,155.90 L501.80,158.71 L498.99,155.90Z" fill="#b8b8b8"/><path d="M505.38,163.50 L508.19,166.30 L505.38,169.11 L502.57,166.30Z" fill="#b8b8b8"/><path d="M508.96,163.55 L511.76,166.36 L508.96,169.16 L506.15,166.36Z" fill="#b8b8b8"/><path d="M512.54,163.61 L515.34,166.41 L512.54,169.22 L509.73,166.41Z" fill="#b8b8b8"/><path d="M516.12,163.66 L518.92,166.47 L516.12,169.27 L513.32,166.47Z" fill="#b8b8b8"/><path d="M519.70,163.72 L522.50,166.52 L519.70,169.33 L516.89,166.52Z" fill="#b8b8b8"/><path d="M523.28,163.77 L526.08,166.58 L523.28,169.38 L520.48,166.58Z" fill="#b8b8b8"/><path d="M526.86,163.83 L529.66,166.63 L526.86,169.44 L524.06,166.63Z" fill="#b8b8b8"/><path d="M530.44,163.88 L533.24,166.69 L530.44,169.49 L527.63,166.69Z" fill="#b8b8b8"/><path d="M534.02,163.94 L536.82,166.74 L534.02,169.55 L531.22,166.74Z" fill="#b8b8b8"/><path d="M537.60,164.00 L540.40,166.80 L537.60,169.61 L534.79,166.80Z" fill="#b8b8b8"/><path d="M541.18,171.39 L543.98,174.20 L541.18,177.00 L538.38,174.20Z" fill="#b8b8b8"/><path d="M544.76,171.42 L547.56,174.22 L544.76,177.03 L541.96,174.22Z" fill="#b8b8b8"/><path d="M548.34,171.44 L551.14,174.24 L548.34,177.05 L545.53,174.24Z" fill="#b8b8b8"/><path d="M551.92,171.46 L554.72,174.27 L551.92,177.07 L549.12,174.27Z" fill="#b8b8b8"/><path d="M555.50,171.48 L558.30,174.29 L555.50,177.09 L552.70,174.29Z" fill="#b8b8b8"/><path d="M559.08,171.51 L561.88,174.31 L559.08,177.12 L556.27,174.31Z" fill="#b8b8b8"/><path d="M562.66,171.53 L565.46,174.33 L562.66,177.14 L559.86,174.33Z" fill="#b8b8b8"/><path d="M566.24,171.55 L569.04,174.36 L566.24,177.16 L563.44,174.36Z" fill="#b8b8b8"/><path d="M569.82,171.57 L572.62,174.38 L569.82,177.18 L567.01,174.38Z" fill="#b8b8b8"/><path d="M573.40,171.59 L576.20,174.40 L573.40,177.21 L570.60,174.40Z" fill="#b8b8b8"/><path d="M576.98,124.19 L579.78,127.00 L576.98,129.81 L574.18,127.00Z" fill="#b8b8b8"/><path d="M580.56,127.00 L583.36,129.80 L580.56,132.61 L577.75,129.80Z" fill="#b8b8b8"/><path d="M584.14,123.69 L586.94,126.50 L584.14,129.31 L581.34,126.50Z" fill="#b8b8b8"/><path d="M587.72,123.89 L590.52,126.70 L587.72,129.50 L584.92,126.70Z" fill="#b8b8b8"/><path d="M591.30,124.09 L594.10,126.90 L591.30,129.71 L588.50,126.90Z" fill="#b8b8b8"/><path d="M594.88,124.19 L597.68,127.00 L594.88,129.81 L592.08,127.00Z" fill="#b8b8b8"/><path d="M598.46,123.99 L601.26,126.80 L598.46,129.60 L595.66,126.80Z" fill="#b8b8b8"/><path d="M602.04,121.89 L604.84,124.70 L602.04,127.51 L599.24,124.70Z" fill="#b8b8b8"/><path d="M605.62,120.39 L608.42,123.20 L605.62,126.01 L602.82,123.20Z" fill="#b8b8b8"/><path d="M609.20,120.39 L612.00,123.20 L609.20,126.01 L606.40,123.20Z" fill="#b8b8b8"/><rect x="403.70" y="7.00" width="4.4" height="4.4" fill="#ff0000"/><text transform="translate(418.30 12.10) scale(1 1.0)" font-family="Liberation Serif" font-size="7.6" fill="#333">120<tspan font-size="5.70" dy="-0.46" dx="0.23">°</tspan><tspan dy="0.46" dx="-0.91">C</tspan></text><circle cx="405.90" cy="18.18" r="2.4" fill="#000000"/><text transform="translate(418.30 21.08) scale(1 1.0)" font-family="Liberation Serif" font-size="7.6" fill="#333">130<tspan font-size="5.70" dy="-0.46" dx="0.23">°</tspan><tspan dy="0.46" dx="-0.91">C</tspan></text><path d="M405.90,23.76 L409.05,29.43 L402.75,29.43Z" fill="#1a62e6"/><text transform="translate(418.30 30.06) scale(1 1.0)" font-family="Liberation Serif" font-size="7.6" fill="#333">140<tspan font-size="5.70" dy="-0.46" dx="0.23">°</tspan><tspan dy="0.46" dx="-0.91">C</tspan></text><path d="M405.90,39.54 L409.05,33.87 L402.75,33.87Z" fill="#ffff00"/><text transform="translate(418.30 39.04) scale(1 1.0)" font-family="Liberation Serif" font-size="7.6" fill="#333">150<tspan font-size="5.70" dy="-0.46" dx="0.23">°</tspan><tspan dy="0.46" dx="-0.91">C</tspan></text><path d="M405.90,42.15 L408.87,45.12 L405.90,48.09 L402.93,45.12Z" fill="#b8b8b8"/><text transform="translate(418.30 48.02) scale(1 1.0)" font-family="Liberation Serif" font-size="7.6" fill="#333">160<tspan font-size="5.70" dy="-0.46" dx="0.23">°</tspan><tspan dy="0.46" dx="-0.91">C</tspan></text><line x1="54.3" y1="278.6" x2="54.3" y2="481.1" stroke="#333333" stroke-width="1.3"/><line x1="54.3" y1="481.1" x2="305.1" y2="481.1" stroke="#333333" stroke-width="1.3"/><line x1="305.1" y1="278.6" x2="305.1" y2="481.1" stroke="#444" stroke-width="1"/><line x1="54.3" y1="278.6" x2="305.1" y2="278.6" stroke="#444" stroke-width="1"/><line x1="50.3" y1="481.10" x2="54.3" y2="481.10" stroke="#333333" stroke-width="1"/><text transform="translate(48.60 483.70) scale(1 1.08)" font-family="Liberation Sans" font-size="8.2" text-anchor="end" fill="#111">-0.0002</text><line x1="50.3" y1="440.60" x2="54.3" y2="440.60" stroke="#333333" stroke-width="1"/><text transform="translate(48.60 443.20) scale(1 1.08)" font-family="Liberation Sans" font-size="8.2" text-anchor="end" fill="#111">-0.0001</text><line x1="50.3" y1="400.10" x2="54.3" y2="400.10" stroke="#333333" stroke-width="1"/><text transform="translate(48.60 402.70) scale(1 1.08)" font-family="Liberation Sans" font-size="8.2" text-anchor="end" fill="#111">0.0000</text><line x1="50.3" y1="359.60" x2="54.3" y2="359.60" stroke="#333333" stroke-width="1"/><text transform="translate(48.60 362.20) scale(1 1.08)" font-family="Liberation Sans" font-size="8.2" text-anchor="end" fill="#111">0.0001</text><line x1="50.3" y1="319.10" x2="54.3" y2="319.10" stroke="#333333" stroke-width="1"/><text transform="translate(48.60 321.70) scale(1 1.08)" font-family="Liberation Sans" font-size="8.2" text-anchor="end" fill="#111">0.0002</text><line x1="50.3" y1="278.60" x2="54.3" y2="278.60" stroke="#333333" stroke-width="1"/><text transform="translate(48.60 281.20) scale(1 1.08)" font-family="Liberation Sans" font-size="8.2" text-anchor="end" fill="#111">0.0003</text><line x1="52.099999999999994" y1="460.85" x2="54.3" y2="460.85" stroke="#333333" stroke-width="1"/><line x1="52.099999999999994" y1="420.35" x2="54.3" y2="420.35" stroke="#333333" stroke-width="1"/><line x1="52.099999999999994" y1="379.85" x2="54.3" y2="379.85" stroke="#333333" stroke-width="1"/><line x1="52.099999999999994" y1="339.35" x2="54.3" y2="339.35" stroke="#333333" stroke-width="1"/><line x1="52.099999999999994" y1="298.85" x2="54.3" y2="298.85" stroke="#333333" stroke-width="1"/><line x1="54.20" y1="481.1" x2="54.20" y2="484.6" stroke="#333333" stroke-width="1"/><text transform="translate(54.20 494.30) scale(1 1.08)" font-family="Liberation Sans" font-size="8.2" text-anchor="middle" fill="#111">0.6</text><line x1="92.80" y1="481.1" x2="92.80" y2="484.6" stroke="#333333" stroke-width="1"/><text transform="translate(92.80 494.30) scale(1 1.08)" font-family="Liberation Sans" font-size="8.2" text-anchor="middle" fill="#111">0.8</text><line x1="131.40" y1="481.1" x2="131.40" y2="484.6" stroke="#333333" stroke-width="1"/><text transform="translate(131.40 494.30) scale(1 1.08)" font-family="Liberation Sans" font-size="8.2" text-anchor="middle" fill="#111">1.0</text><line x1="170.00" y1="481.1" x2="170.00" y2="484.6" stroke="#333333" stroke-width="1"/><text transform="translate(170.00 494.30) scale(1 1.08)" font-family="Liberation Sans" font-size="8.2" text-anchor="middle" fill="#111">1.2</text><line x1="208.60" y1="481.1" x2="208.60" y2="484.6" stroke="#333333" stroke-width="1"/><text transform="translate(208.60 494.30) scale(1 1.08)" font-family="Liberation Sans" font-size="8.2" text-anchor="middle" fill="#111">1.4</text><line x1="247.20" y1="481.1" x2="247.20" y2="484.6" stroke="#333333" stroke-width="1"/><text transform="translate(247.20 494.30) scale(1 1.08)" font-family="Liberation Sans" font-size="8.2" text-anchor="middle" fill="#111">1.6</text><line x1="285.80" y1="481.1" x2="285.80" y2="484.6" stroke="#333333" stroke-width="1"/><text transform="translate(285.80 494.30) scale(1 1.08)" font-family="Liberation Sans" font-size="8.2" text-anchor="middle" fill="#111">1.8</text><line x1="73.50" y1="481.1" x2="73.50" y2="483.3" stroke="#333333" stroke-width="1"/><line x1="112.10" y1="481.1" x2="112.10" y2="483.3" stroke="#333333" stroke-width="1"/><line x1="150.70" y1="481.1" x2="150.70" y2="483.3" stroke="#333333" stroke-width="1"/><line x1="189.30" y1="481.1" x2="189.30" y2="483.3" stroke="#333333" stroke-width="1"/><line x1="227.90" y1="481.1" x2="227.90" y2="483.3" stroke="#333333" stroke-width="1"/><line x1="266.50" y1="481.1" x2="266.50" y2="483.3" stroke="#333333" stroke-width="1"/><line x1="305.10" y1="481.1" x2="305.10" y2="483.3" stroke="#333333" stroke-width="1"/><text transform="translate(7.8 381.4) rotate(-90) scale(1 1.08)" font-family="Liberation Sans" font-size="9.45" text-anchor="middle" fill="#111">current/A</text><text transform="translate(179.60 509.10) scale(1 1.08)" font-family="Liberation Sans" font-size="9.5" text-anchor="middle" fill="#111">potential/V</text><text x="177.00" y="532.60" font-family="Liberation Serif" font-size="16" text-anchor="middle" fill="#111">(c)</text><clipPath id="cc"><rect x="54.6" y="278.6" width="250.4" height="202.6"/></clipPath><g clip-path="url(#cc)"><path d="M72.70,406.30 C75.58,406.35 83.78,406.62 90.00,406.60 C96.22,406.58 103.33,406.42 110.00,406.20 C116.67,405.98 123.33,405.63 130.00,405.30 C136.67,404.97 142.50,404.95 150.00,404.20 C157.50,403.45 167.17,402.03 175.00,400.80 C182.83,399.57 190.33,398.05 197.00,396.80 C203.67,395.55 210.33,394.20 215.00,393.30 C219.67,392.40 222.50,392.03 225.00,391.40 C227.50,390.77 228.58,390.65 230.00,389.50 C231.42,388.35 232.50,386.58 233.50,384.50 C234.50,382.42 235.17,380.58 236.00,377.00 C236.83,373.42 237.73,368.25 238.50,363.00 C239.27,357.75 239.93,347.50 240.60,345.50 C241.27,343.50 241.77,347.58 242.50,351.00 C243.23,354.42 244.02,361.92 245.00,366.00 C245.98,370.08 247.23,373.25 248.40,375.50 C249.57,377.75 250.57,378.50 252.00,379.50 C253.43,380.50 254.95,380.92 257.00,381.50 C259.05,382.08 261.52,382.52 264.30,383.00 C267.08,383.48 270.90,384.02 273.70,384.40 C276.50,384.78 279.00,385.17 281.10,385.30 C283.20,385.43 285.37,384.75 286.30,385.20 C287.23,385.65 286.93,386.82 286.70,388.00 C286.47,389.18 286.13,390.80 284.90,392.30 C283.67,393.80 281.17,395.90 279.30,397.00 C277.43,398.10 276.25,398.35 273.70,398.90 C271.15,399.45 267.65,399.87 264.00,400.30 C260.35,400.73 255.80,400.97 251.80,401.50 C247.80,402.03 244.23,402.77 240.00,403.50 C235.77,404.23 229.73,405.18 226.40,405.90 C223.07,406.62 222.02,406.93 220.00,407.80 C217.98,408.67 216.22,409.48 214.30,411.10 C212.38,412.72 210.23,415.87 208.50,417.50 C206.77,419.13 205.40,420.65 203.90,420.90 C202.40,421.15 200.90,420.05 199.50,419.00 C198.10,417.95 196.78,415.47 195.50,414.60 C194.22,413.73 193.13,413.32 191.80,413.80 C190.47,414.28 188.93,415.77 187.50,417.50 C186.07,419.23 184.78,422.45 183.20,424.20 C181.62,425.95 179.45,427.30 178.00,428.00 C176.55,428.70 176.00,428.65 174.50,428.40 C173.00,428.15 170.82,427.52 169.00,426.50 C167.18,425.48 165.55,424.00 163.60,422.30 C161.65,420.60 159.32,418.10 157.30,416.30 C155.28,414.50 153.72,412.80 151.50,411.50 C149.28,410.20 146.30,409.13 144.00,408.50 C141.70,407.87 141.70,407.70 137.70,407.70 C133.70,407.70 126.28,408.23 120.00,408.50 C113.72,408.77 105.10,409.03 100.00,409.30 C94.90,409.57 92.32,409.60 89.40,410.10 C86.48,410.60 84.43,410.62 82.50,412.30 C80.57,413.98 78.87,416.08 77.80,420.20 C76.73,424.32 76.62,430.00 76.10,437.00 C75.58,444.00 75.07,454.53 74.70,462.20 C74.33,469.87 74.03,479.53 73.90,483.00" fill="none" stroke="#ff0000" stroke-width="2.4" stroke-linejoin="round" stroke-linecap="round"/><path d="M72.70,404.50 C75.58,404.62 83.78,405.12 90.00,405.20 C96.22,405.28 103.33,405.12 110.00,405.00 C116.67,404.88 123.33,404.73 130.00,404.50 C136.67,404.27 142.50,404.30 150.00,403.60 C157.50,402.90 167.17,401.48 175.00,400.30 C182.83,399.12 190.33,397.75 197.00,396.50 C203.67,395.25 210.27,393.75 215.00,392.80 C219.73,391.85 222.90,391.68 225.40,390.80 C227.90,389.92 228.70,389.13 230.00,387.50 C231.30,385.87 232.33,384.75 233.20,381.00 C234.07,377.25 234.62,371.83 235.20,365.00 C235.78,358.17 236.18,348.83 236.70,340.00 C237.22,331.17 237.77,318.02 238.30,312.00 C238.83,305.98 239.37,304.23 239.90,303.90 C240.43,303.57 240.90,305.32 241.50,310.00 C242.10,314.68 242.83,325.33 243.50,332.00 C244.17,338.67 244.75,345.00 245.50,350.00 C246.25,355.00 246.95,358.58 248.00,362.00 C249.05,365.42 250.13,368.25 251.80,370.50 C253.47,372.75 255.13,374.00 258.00,375.50 C260.87,377.00 265.33,378.67 269.00,379.50 C272.67,380.33 277.12,380.37 280.00,380.50 C282.88,380.63 285.25,379.47 286.30,380.30 C287.35,381.13 286.85,383.42 286.30,385.50 C285.75,387.58 284.80,390.67 283.00,392.80 C281.20,394.93 278.62,396.78 275.50,398.30 C272.38,399.82 268.25,400.98 264.30,401.90 C260.35,402.82 256.68,403.07 251.80,403.80 C246.92,404.53 239.32,405.57 235.00,406.30 C230.68,407.03 228.73,407.00 225.90,408.20 C223.07,409.40 220.32,411.28 218.00,413.50 C215.68,415.72 213.67,418.92 212.00,421.50 C210.33,424.08 209.20,427.28 208.00,429.00 C206.80,430.72 206.13,432.13 204.80,431.80 C203.47,431.47 201.55,429.05 200.00,427.00 C198.45,424.95 197.00,421.20 195.50,419.50 C194.00,417.80 192.58,416.05 191.00,416.80 C189.42,417.55 187.50,420.97 186.00,424.00 C184.50,427.03 183.28,432.27 182.00,435.00 C180.72,437.73 179.80,440.23 178.30,440.40 C176.80,440.57 174.72,437.57 173.00,436.00 C171.28,434.43 169.57,432.08 168.00,431.00 C166.43,429.92 165.77,431.17 163.60,429.50 C161.43,427.83 157.87,423.58 155.00,421.00 C152.13,418.42 150.57,415.62 146.40,414.00 C142.23,412.38 137.20,411.80 130.00,411.30 C122.80,410.80 109.03,410.63 103.20,411.00 C97.37,411.37 97.30,412.42 95.00,413.50 C92.70,414.58 91.23,415.67 89.40,417.50 C87.57,419.33 85.48,421.25 84.00,424.50 C82.52,427.75 81.50,431.55 80.50,437.00 C79.50,442.45 78.68,449.53 78.00,457.20 C77.32,464.87 76.67,478.70 76.40,483.00" fill="none" stroke="#000000" stroke-width="2.4" stroke-linejoin="round" stroke-linecap="round"/><path d="M72.70,403.70 C75.58,403.82 83.78,404.28 90.00,404.40 C96.22,404.52 103.33,404.47 110.00,404.40 C116.67,404.33 123.33,404.18 130.00,404.00 C136.67,403.82 142.50,403.97 150.00,403.30 C157.50,402.63 167.17,401.17 175.00,400.00 C182.83,398.83 190.33,397.55 197.00,396.30 C203.67,395.05 210.27,393.50 215.00,392.50 C219.73,391.50 222.90,391.22 225.40,390.30 C227.90,389.38 228.68,388.55 230.00,387.00 C231.32,385.45 232.38,384.67 233.30,381.00 C234.22,377.33 234.83,371.00 235.50,365.00 C236.17,359.00 236.80,350.67 237.30,345.00 C237.80,339.33 238.13,334.67 238.50,331.00 C238.87,327.33 239.12,323.67 239.50,323.00 C239.88,322.33 240.30,324.17 240.80,327.00 C241.30,329.83 241.67,335.18 242.50,340.00 C243.33,344.82 244.25,351.38 245.80,355.90 C247.35,360.42 250.27,364.75 251.80,367.10 C253.33,369.45 253.97,369.02 255.00,370.00 C256.03,370.98 256.45,371.85 258.00,373.00 C259.55,374.15 261.68,375.93 264.30,376.90 C266.92,377.87 270.58,378.40 273.70,378.80 C276.82,379.20 280.87,379.18 283.00,379.30 C285.13,379.42 285.95,378.55 286.50,379.50 C287.05,380.45 286.88,383.08 286.30,385.00 C285.72,386.92 285.10,389.62 283.00,391.00 C280.90,392.38 276.82,392.30 273.70,393.30 C270.58,394.30 267.42,395.75 264.30,397.00 C261.18,398.25 259.05,399.55 255.00,400.80 C250.95,402.05 244.85,403.35 240.00,404.50 C235.15,405.65 229.57,406.37 225.90,407.70 C222.23,409.03 220.32,410.45 218.00,412.50 C215.68,414.55 213.67,417.75 212.00,420.00 C210.33,422.25 209.28,424.62 208.00,426.00 C206.72,427.38 205.63,428.72 204.30,428.30 C202.97,427.88 201.47,425.38 200.00,423.50 C198.53,421.62 197.08,418.25 195.50,417.00 C193.92,415.75 192.08,415.17 190.50,416.00 C188.92,416.83 187.42,419.50 186.00,422.00 C184.58,424.50 183.30,428.45 182.00,431.00 C180.70,433.55 179.70,436.80 178.20,437.30 C176.70,437.80 174.70,435.30 173.00,434.00 C171.30,432.70 169.57,430.53 168.00,429.50 C166.43,428.47 165.77,429.38 163.60,427.80 C161.43,426.22 157.87,422.38 155.00,420.00 C152.13,417.62 150.57,415.03 146.40,413.50 C142.23,411.97 137.20,411.30 130.00,410.80 C122.80,410.30 109.03,410.17 103.20,410.50 C97.37,410.83 97.57,411.18 95.00,412.80 C92.43,414.42 90.05,416.17 87.80,420.20 C85.55,424.23 83.10,430.83 81.50,437.00 C79.90,443.17 79.02,449.53 78.20,457.20 C77.38,464.87 76.87,478.70 76.60,483.00" fill="none" stroke="#1a62e6" stroke-width="2.4" stroke-linejoin="round" stroke-linecap="round"/><path d="M72.70,405.40 C75.58,405.43 83.78,405.63 90.00,405.60 C96.22,405.57 103.33,405.37 110.00,405.20 C116.67,405.03 123.33,404.87 130.00,404.60 C136.67,404.33 142.50,404.32 150.00,403.60 C157.50,402.88 167.17,401.53 175.00,400.30 C182.83,399.07 190.33,397.48 197.00,396.20 C203.67,394.92 210.27,393.53 215.00,392.60 C219.73,391.67 222.90,391.45 225.40,390.60 C227.90,389.75 228.70,389.20 230.00,387.50 C231.30,385.80 232.40,384.65 233.20,380.40 C234.00,376.15 234.25,369.57 234.80,362.00 C235.35,354.43 235.97,343.33 236.50,335.00 C237.03,326.67 237.53,316.67 238.00,312.00 C238.47,307.33 238.83,306.83 239.30,307.00 C239.77,307.17 240.18,308.83 240.80,313.00 C241.42,317.17 242.38,326.28 243.00,332.00 C243.62,337.72 243.75,341.88 244.50,347.30 C245.25,352.72 246.28,360.25 247.50,364.50 C248.72,368.75 250.05,370.85 251.80,372.80 C253.55,374.75 255.92,375.52 258.00,376.20 C260.08,376.88 261.68,376.47 264.30,376.90 C266.92,377.33 270.58,378.48 273.70,378.80 C276.82,379.12 280.83,378.88 283.00,378.80 C285.17,378.72 286.15,377.28 286.70,378.30 C287.25,379.32 286.92,382.57 286.30,384.90 C285.68,387.23 284.80,390.12 283.00,392.30 C281.20,394.48 278.62,396.43 275.50,398.00 C272.38,399.57 268.25,400.80 264.30,401.70 C260.35,402.60 256.68,402.68 251.80,403.40 C246.92,404.12 239.32,405.28 235.00,406.00 C230.68,406.72 228.73,406.62 225.90,407.70 C223.07,408.78 220.32,410.37 218.00,412.50 C215.68,414.63 213.67,418.00 212.00,420.50 C210.33,423.00 209.20,426.05 208.00,427.50 C206.80,428.95 206.13,429.62 204.80,429.20 C203.47,428.78 201.55,426.78 200.00,425.00 C198.45,423.22 197.00,419.82 195.50,418.50 C194.00,417.18 192.58,416.27 191.00,417.10 C189.42,417.93 187.50,421.02 186.00,423.50 C184.50,425.98 183.18,429.90 182.00,432.00 C180.82,434.10 180.32,435.85 178.90,436.10 C177.48,436.35 174.95,434.22 173.50,433.50 C172.05,432.78 171.85,432.80 170.20,431.80 C168.55,430.80 165.75,429.52 163.60,427.50 C161.45,425.48 160.17,422.20 157.30,419.70 C154.43,417.20 150.95,413.98 146.40,412.50 C141.85,411.02 137.20,411.12 130.00,410.80 C122.80,410.48 109.03,410.32 103.20,410.60 C97.37,410.88 97.30,411.50 95.00,412.50 C92.70,413.50 91.23,415.02 89.40,416.60 C87.57,418.18 85.45,419.98 84.00,422.00 C82.55,424.02 81.57,425.70 80.70,428.70 C79.83,431.70 79.28,435.25 78.80,440.00 C78.32,444.75 78.33,450.03 77.80,457.20 C77.27,464.37 75.97,478.70 75.60,483.00" fill="none" stroke="#ffff00" stroke-width="2.4" stroke-linejoin="round" stroke-linecap="round"/><path d="M72.70,407.60 C75.58,407.60 83.78,407.82 90.00,407.60 C96.22,407.38 103.33,406.80 110.00,406.30 C116.67,405.80 123.33,405.38 130.00,404.60 C136.67,403.82 142.50,402.73 150.00,401.60 C157.50,400.47 167.15,399.10 175.00,397.80 C182.85,396.50 191.27,394.93 197.10,393.80 C202.93,392.67 206.08,391.92 210.00,391.00 C213.92,390.08 217.52,389.55 220.60,388.30 C223.68,387.05 226.53,385.60 228.50,383.50 C230.47,381.40 231.48,379.62 232.40,375.70 C233.32,371.78 233.40,367.62 234.00,360.00 C234.60,352.38 235.17,340.00 236.00,330.00 C236.83,320.00 238.03,306.48 239.00,300.00 C239.97,293.52 240.93,291.43 241.80,291.10 C242.67,290.77 243.42,293.52 244.20,298.00 C244.98,302.48 245.53,310.83 246.50,318.00 C247.47,325.17 248.58,334.83 250.00,341.00 C251.42,347.17 253.23,351.42 255.00,355.00 C256.77,358.58 258.27,360.48 260.60,362.50 C262.93,364.52 266.05,366.02 269.00,367.10 C271.95,368.18 275.50,368.53 278.30,369.00 C281.10,369.47 284.55,368.65 285.80,369.90 C287.05,371.15 285.95,374.32 285.80,376.50 C285.65,378.68 285.68,380.67 284.90,383.00 C284.12,385.33 282.97,388.32 281.10,390.50 C279.23,392.68 276.50,394.55 273.70,396.10 C270.90,397.65 267.42,398.72 264.30,399.80 C261.18,400.88 258.22,401.73 255.00,402.60 C251.78,403.47 248.33,404.18 245.00,405.00 C241.67,405.82 238.33,406.50 235.00,407.50 C231.67,408.50 228.17,408.97 225.00,411.00 C221.83,413.03 218.50,416.70 216.00,419.70 C213.50,422.70 211.83,426.03 210.00,429.00 C208.17,431.97 206.30,435.60 205.00,437.50 C203.70,439.40 203.37,440.65 202.20,440.40 C201.03,440.15 199.45,438.07 198.00,436.00 C196.55,433.93 194.82,429.70 193.50,428.00 C192.18,426.30 191.35,425.47 190.10,425.80 C188.85,426.13 187.52,427.30 186.00,430.00 C184.48,432.70 182.77,438.82 181.00,442.00 C179.23,445.18 177.23,448.43 175.40,449.10 C173.57,449.77 171.97,447.68 170.00,446.00 C168.03,444.32 165.72,441.37 163.60,439.00 C161.48,436.63 159.40,434.05 157.30,431.80 C155.20,429.55 152.82,427.17 151.00,425.50 C149.18,423.83 148.23,423.33 146.40,421.80 C144.57,420.27 142.90,418.18 140.00,416.30 C137.10,414.42 134.00,411.62 129.00,410.50 C124.00,409.38 116.50,409.80 110.00,409.60 C103.50,409.40 94.53,409.35 90.00,409.30 C85.47,409.25 85.12,409.02 82.80,409.30 C80.48,409.58 77.63,409.18 76.10,411.00 C74.57,412.82 74.02,418.67 73.60,420.20" fill="none" stroke="#b8b8b8" stroke-width="2.4" stroke-linejoin="round" stroke-linecap="round"/></g><line x1="76.4" y1="301.4" x2="97.3" y2="301.4" stroke="#ff0000" stroke-width="2.6" stroke-linecap="round"/><text transform="translate(104.00 305.00) scale(1 1.1)" font-family="Liberation Serif" font-size="10.6" fill="#222">120<tspan font-size="7.95" dy="-0.64" dx="0.32">°</tspan><tspan dy="0.64" dx="-1.27">C</tspan></text><line x1="76.4" y1="314.03" x2="97.3" y2="314.03" stroke="#000000" stroke-width="2.6" stroke-linecap="round"/><text transform="translate(104.00 317.63) scale(1 1.1)" font-family="Liberation Serif" font-size="10.6" fill="#222">130<tspan font-size="7.95" dy="-0.64" dx="0.32">°</tspan><tspan dy="0.64" dx="-1.27">C</tspan></text><line x1="76.4" y1="326.65999999999997" x2="97.3" y2="326.65999999999997" stroke="#1a62e6" stroke-width="2.6" stroke-linecap="round"/><text transform="translate(104.00 330.26) scale(1 1.1)" font-family="Liberation Serif" font-size="10.6" fill="#222">140<tspan font-size="7.95" dy="-0.64" dx="0.32">°</tspan><tspan dy="0.64" dx="-1.27">C</tspan></text><line x1="76.4" y1="339.28999999999996" x2="97.3" y2="339.28999999999996" stroke="#ffff00" stroke-width="2.6" stroke-linecap="round"/><text transform="translate(104.00 342.89) scale(1 1.1)" font-family="Liberation Serif" font-size="10.6" fill="#222">150<tspan font-size="7.95" dy="-0.64" dx="0.32">°</tspan><tspan dy="0.64" dx="-1.27">C</tspan></text><line x1="76.4" y1="351.91999999999996" x2="97.3" y2="351.91999999999996" stroke="#b8b8b8" stroke-width="2.6" stroke-linecap="round"/><text transform="translate(104.00 355.52) scale(1 1.1)" font-family="Liberation Serif" font-size="10.6" fill="#222">160<tspan font-size="7.95" dy="-0.64" dx="0.32">°</tspan><tspan dy="0.64" dx="-1.27">C</tspan></text><line x1="377.7" y1="278.5" x2="377.7" y2="480.8" stroke="#333333" stroke-width="1.3"/><line x1="377.7" y1="480.8" x2="628.5" y2="480.8" stroke="#333333" stroke-width="1.3"/><line x1="628.5" y1="278.5" x2="628.5" y2="480.8" stroke="#444" stroke-width="1"/><line x1="377.7" y1="278.5" x2="628.5" y2="278.5" stroke="#444" stroke-width="1"/><line x1="373.7" y1="475.20" x2="377.7" y2="475.20" stroke="#333333" stroke-width="1"/><text transform="translate(371.40 477.80) scale(1 1.08)" font-family="Liberation Sans" font-size="8.2" text-anchor="end" fill="#111">0</text><line x1="373.7" y1="447.09" x2="377.7" y2="447.09" stroke="#333333" stroke-width="1"/><text transform="translate(371.40 449.69) scale(1 1.08)" font-family="Liberation Sans" font-size="8.2" text-anchor="end" fill="#111">100</text><line x1="373.7" y1="418.98" x2="377.7" y2="418.98" stroke="#333333" stroke-width="1"/><text transform="translate(371.40 421.58) scale(1 1.08)" font-family="Liberation Sans" font-size="8.2" text-anchor="end" fill="#111">200</text><line x1="373.7" y1="390.87" x2="377.7" y2="390.87" stroke="#333333" stroke-width="1"/><text transform="translate(371.40 393.47) scale(1 1.08)" font-family="Liberation Sans" font-size="8.2" text-anchor="end" fill="#111">300</text><line x1="373.7" y1="362.76" x2="377.7" y2="362.76" stroke="#333333" stroke-width="1"/><text transform="translate(371.40 365.36) scale(1 1.08)" font-family="Liberation Sans" font-size="8.2" text-anchor="end" fill="#111">400</text><line x1="373.7" y1="334.65" x2="377.7" y2="334.65" stroke="#333333" stroke-width="1"/><text transform="translate(371.40 337.25) scale(1 1.08)" font-family="Liberation Sans" font-size="8.2" text-anchor="end" fill="#111">500</text><line x1="373.7" y1="306.54" x2="377.7" y2="306.54" stroke="#333333" stroke-width="1"/><text transform="translate(371.40 309.14) scale(1 1.08)" font-family="Liberation Sans" font-size="8.2" text-anchor="end" fill="#111">600</text><line x1="373.7" y1="278.43" x2="377.7" y2="278.43" stroke="#333333" stroke-width="1"/><text transform="translate(371.40 281.03) scale(1 1.08)" font-family="Liberation Sans" font-size="8.2" text-anchor="end" fill="#111">700</text><line x1="375.5" y1="461.14" x2="377.7" y2="461.14" stroke="#333333" stroke-width="1"/><line x1="375.5" y1="433.03" x2="377.7" y2="433.03" stroke="#333333" stroke-width="1"/><line x1="375.5" y1="404.92" x2="377.7" y2="404.92" stroke="#333333" stroke-width="1"/><line x1="375.5" y1="376.81" x2="377.7" y2="376.81" stroke="#333333" stroke-width="1"/><line x1="375.5" y1="348.70" x2="377.7" y2="348.70" stroke="#333333" stroke-width="1"/><line x1="375.5" y1="320.59" x2="377.7" y2="320.59" stroke="#333333" stroke-width="1"/><line x1="375.5" y1="292.49" x2="377.7" y2="292.49" stroke="#333333" stroke-width="1"/><line x1="381.70" y1="480.8" x2="381.70" y2="484.3" stroke="#333333" stroke-width="1"/><text transform="translate(381.70 493.80) scale(1 1.08)" font-family="Liberation Sans" font-size="8.2" text-anchor="middle" fill="#111">0</text><line x1="422.80" y1="480.8" x2="422.80" y2="484.3" stroke="#333333" stroke-width="1"/><text transform="translate(422.80 493.80) scale(1 1.08)" font-family="Liberation Sans" font-size="8.2" text-anchor="middle" fill="#111">200</text><line x1="463.90" y1="480.8" x2="463.90" y2="484.3" stroke="#333333" stroke-width="1"/><text transform="translate(463.90 493.80) scale(1 1.08)" font-family="Liberation Sans" font-size="8.2" text-anchor="middle" fill="#111">400</text><line x1="505.00" y1="480.8" x2="505.00" y2="484.3" stroke="#333333" stroke-width="1"/><text transform="translate(505.00 493.80) scale(1 1.08)" font-family="Liberation Sans" font-size="8.2" text-anchor="middle" fill="#111">600</text><line x1="546.10" y1="480.8" x2="546.10" y2="484.3" stroke="#333333" stroke-width="1"/><text transform="translate(546.10 493.80) scale(1 1.08)" font-family="Liberation Sans" font-size="8.2" text-anchor="middle" fill="#111">800</text><line x1="587.20" y1="480.8" x2="587.20" y2="484.3" stroke="#333333" stroke-width="1"/><text transform="translate(587.20 493.80) scale(1 1.08)" font-family="Liberation Sans" font-size="8.2" text-anchor="middle" fill="#111">1000</text><line x1="628.30" y1="480.8" x2="628.30" y2="484.3" stroke="#333333" stroke-width="1"/><text transform="translate(628.30 493.80) scale(1 1.08)" font-family="Liberation Sans" font-size="8.2" text-anchor="middle" fill="#111">1200</text><line x1="402.25" y1="480.8" x2="402.25" y2="483.0" stroke="#333333" stroke-width="1"/><line x1="443.35" y1="480.8" x2="443.35" y2="483.0" stroke="#333333" stroke-width="1"/><line x1="484.45" y1="480.8" x2="484.45" y2="483.0" stroke="#333333" stroke-width="1"/><line x1="525.55" y1="480.8" x2="525.55" y2="483.0" stroke="#333333" stroke-width="1"/><line x1="566.65" y1="480.8" x2="566.65" y2="483.0" stroke="#333333" stroke-width="1"/><line x1="607.75" y1="480.8" x2="607.75" y2="483.0" stroke="#333333" stroke-width="1"/><text transform="translate(351.2 399.2) rotate(-90) scale(1 1.08)" font-family="Liberation Sans" font-size="9.6" fill="#111">-Z"/<tspan font-family="Liberation Serif" font-size="10.8" dx="1.6">Ω</tspan></text><text transform="translate(492.4 509.9) scale(1 1.08)" font-family="Liberation Sans" font-size="9.7" fill="#111">Z'/<tspan font-family="Liberation Serif" font-size="10.8" dx="1.6">Ω</tspan></text><text x="503.80" y="532.80" font-family="Liberation Serif" font-size="16" text-anchor="middle" fill="#111">(d)</text><clipPath id="dc"><rect x="378.4" y="278.5" width="250" height="202.3"/></clipPath><g clip-path="url(#dc)"><path d="M379.80,471.50 C380.17,470.58 381.27,467.75 382.00,466.00 C382.73,464.25 383.50,462.52 384.20,461.00 C384.90,459.48 385.43,458.32 386.20,456.90 C386.97,455.48 387.87,453.80 388.80,452.50 C389.73,451.20 390.85,450.22 391.80,449.10 C392.75,447.98 393.57,446.83 394.50,445.80 C395.43,444.77 395.98,444.12 397.40,442.90 C398.82,441.68 401.13,439.87 403.00,438.50 C404.87,437.13 406.75,435.83 408.60,434.70 C410.45,433.57 412.25,432.57 414.10,431.70 C415.95,430.83 418.02,430.15 419.70,429.50 C421.38,428.85 421.38,428.72 424.20,427.80 C427.02,426.88 432.37,425.07 436.60,424.00 C440.83,422.93 445.25,422.13 449.60,421.40 C453.95,420.67 457.85,420.28 462.70,419.60 C467.55,418.92 472.93,418.00 478.70,417.30 C484.47,416.60 491.40,415.72 497.30,415.40 C503.20,415.08 509.28,414.98 514.10,415.40 C518.92,415.82 522.15,416.97 526.20,417.90 C530.25,418.83 535.10,419.98 538.40,421.00 C541.70,422.02 544.00,423.05 546.00,424.00 C548.00,424.95 548.92,425.75 550.40,426.70 C551.88,427.65 553.52,428.40 554.90,429.70 C556.28,431.00 557.45,433.08 558.70,434.50 C559.95,435.92 561.03,436.97 562.40,438.20 C563.77,439.43 565.42,440.65 566.90,441.90 C568.38,443.15 569.82,444.50 571.30,445.70 C572.78,446.90 574.30,448.37 575.80,449.10 C577.30,449.83 579.05,449.93 580.30,450.10 C581.55,450.27 582.30,451.08 583.30,450.10 C584.30,449.12 585.30,446.30 586.30,444.20 C587.30,442.10 588.43,439.55 589.30,437.50 C590.17,435.45 590.77,433.77 591.50,431.90 C592.23,430.03 593.00,428.30 593.70,426.30 C594.40,424.30 595.02,422.27 595.70,419.90 C596.38,417.53 597.45,414.82 597.80,412.10 C598.15,409.38 597.12,406.63 597.80,403.60 C598.48,400.57 601.22,395.52 601.90,393.90" fill="none" stroke="#ff5050" stroke-width="0.8"/><rect x="377.70" y="469.40" width="4.2" height="4.2" fill="#ff0000"/><rect x="378.65" y="466.98" width="4.2" height="4.2" fill="#ff0000"/><rect x="379.68" y="464.44" width="4.2" height="4.2" fill="#ff0000"/><rect x="380.80" y="461.79" width="4.2" height="4.2" fill="#ff0000"/><rect x="382.05" y="459.01" width="4.2" height="4.2" fill="#ff0000"/><rect x="383.41" y="456.12" width="4.2" height="4.2" fill="#ff0000"/><rect x="385.00" y="453.15" width="4.2" height="4.2" fill="#ff0000"/><rect x="386.89" y="450.14" width="4.2" height="4.2" fill="#ff0000"/><rect x="389.39" y="447.36" width="4.2" height="4.2" fill="#ff0000"/><rect x="391.88" y="444.30" width="4.2" height="4.2" fill="#ff0000"/><rect x="394.73" y="441.30" width="4.2" height="4.2" fill="#ff0000"/><rect x="398.11" y="438.52" width="4.2" height="4.2" fill="#ff0000"/><rect x="401.79" y="435.76" width="4.2" height="4.2" fill="#ff0000"/><rect x="405.80" y="433.03" width="4.2" height="4.2" fill="#ff0000"/><rect x="410.23" y="430.48" width="4.2" height="4.2" fill="#ff0000"/><rect x="415.15" y="428.31" width="4.2" height="4.2" fill="#ff0000"/><rect x="420.43" y="426.27" width="4.2" height="4.2" fill="#ff0000"/><rect x="425.94" y="424.44" width="4.2" height="4.2" fill="#ff0000"/><rect x="431.48" y="422.73" width="4.2" height="4.2" fill="#ff0000"/><rect x="437.09" y="421.28" width="4.2" height="4.2" fill="#ff0000"/><rect x="442.78" y="420.13" width="4.2" height="4.2" fill="#ff0000"/><rect x="448.49" y="419.14" width="4.2" height="4.2" fill="#ff0000"/><rect x="454.24" y="418.33" width="4.2" height="4.2" fill="#ff0000"/><rect x="459.99" y="417.59" width="4.2" height="4.2" fill="#ff0000"/><rect x="465.73" y="416.74" width="4.2" height="4.2" fill="#ff0000"/><rect x="471.46" y="415.88" width="4.2" height="4.2" fill="#ff0000"/><rect x="477.21" y="415.13" width="4.2" height="4.2" fill="#ff0000"/><rect x="482.97" y="414.43" width="4.2" height="4.2" fill="#ff0000"/><rect x="488.74" y="413.81" width="4.2" height="4.2" fill="#ff0000"/><rect x="494.52" y="413.34" width="4.2" height="4.2" fill="#ff0000"/><rect x="500.31" y="413.09" width="4.2" height="4.2" fill="#ff0000"/><rect x="506.11" y="413.03" width="4.2" height="4.2" fill="#ff0000"/><rect x="511.90" y="413.29" width="4.2" height="4.2" fill="#ff0000"/><rect x="517.63" y="414.19" width="4.2" height="4.2" fill="#ff0000"/><rect x="523.26" y="415.60" width="4.2" height="4.2" fill="#ff0000"/><rect x="528.89" y="416.97" width="4.2" height="4.2" fill="#ff0000"/><rect x="534.50" y="418.43" width="4.2" height="4.2" fill="#ff0000"/><rect x="540.10" y="420.40" width="4.2" height="4.2" fill="#ff0000"/><rect x="543.90" y="422.20" width="4.2" height="4.2" fill="#ff0000"/><rect x="547.40" y="424.20" width="4.2" height="4.2" fill="#ff0000"/><rect x="550.90" y="426.50" width="4.2" height="4.2" fill="#ff0000"/><rect x="554.20" y="429.40" width="4.2" height="4.2" fill="#ff0000"/><rect x="557.40" y="432.70" width="4.2" height="4.2" fill="#ff0000"/><rect x="560.50" y="435.90" width="4.2" height="4.2" fill="#ff0000"/><rect x="563.70" y="438.90" width="4.2" height="4.2" fill="#ff0000"/><rect x="566.90" y="441.90" width="4.2" height="4.2" fill="#ff0000"/><rect x="569.90" y="444.70" width="4.2" height="4.2" fill="#ff0000"/><rect x="572.90" y="446.70" width="4.2" height="4.2" fill="#ff0000"/><rect x="576.20" y="448.10" width="4.2" height="4.2" fill="#ff0000"/><rect x="578.50" y="448.50" width="4.2" height="4.2" fill="#ff0000"/><rect x="580.90" y="448.20" width="4.2" height="4.2" fill="#ff0000"/><rect x="582.70" y="445.40" width="4.2" height="4.2" fill="#ff0000"/><rect x="584.40" y="441.90" width="4.2" height="4.2" fill="#ff0000"/><rect x="586.10" y="438.10" width="4.2" height="4.2" fill="#ff0000"/><rect x="587.70" y="434.20" width="4.2" height="4.2" fill="#ff0000"/><rect x="589.40" y="429.80" width="4.2" height="4.2" fill="#ff0000"/><rect x="591.60" y="424.20" width="4.2" height="4.2" fill="#ff0000"/><rect x="593.60" y="417.80" width="4.2" height="4.2" fill="#ff0000"/><rect x="595.20" y="411.40" width="4.2" height="4.2" fill="#ff0000"/><rect x="595.80" y="401.50" width="4.2" height="4.2" fill="#ff0000"/><rect x="599.80" y="391.80" width="4.2" height="4.2" fill="#ff0000"/><path d="M380.00,476.00 C380.50,475.50 381.97,473.83 383.00,473.00 C384.03,472.17 384.73,471.42 386.20,471.00 C387.67,470.58 389.93,470.75 391.80,470.50 C393.67,470.25 395.53,470.05 397.40,469.50 C399.27,468.95 401.13,468.32 403.00,467.20 C404.87,466.08 406.75,464.47 408.60,462.80 C410.45,461.13 412.25,458.70 414.10,457.20 C415.95,455.70 417.82,454.67 419.70,453.80 C421.58,452.93 423.35,452.50 425.40,452.00 C427.45,451.50 429.52,451.42 432.00,450.80 C434.48,450.18 438.13,449.02 440.30,448.30 C442.47,447.58 443.75,447.22 445.00,446.50 C446.25,445.78 446.87,445.60 447.80,444.00 C448.73,442.40 449.67,439.95 450.60,436.90 C451.53,433.85 452.63,428.65 453.40,425.70 C454.17,422.75 454.58,421.53 455.20,419.20 C455.82,416.87 456.47,414.65 457.10,411.70 C457.73,408.75 458.30,405.03 459.00,401.50 C459.70,397.97 460.60,394.73 461.30,390.50 C462.00,386.27 462.42,381.23 463.20,376.10 C463.98,370.97 465.07,365.70 466.00,359.70 C466.93,353.70 467.58,347.18 468.80,340.10 C470.02,333.02 472.55,321.02 473.30,317.20" fill="none" stroke="#222" stroke-width="0.8"/><circle cx="380.00" cy="476.00" r="1.7" fill="#000000"/><circle cx="382.08" cy="473.84" r="1.7" fill="#000000"/><circle cx="384.36" cy="471.90" r="1.7" fill="#000000"/><circle cx="387.13" cy="470.82" r="1.7" fill="#000000"/><circle cx="390.12" cy="470.64" r="1.7" fill="#000000"/><circle cx="393.10" cy="470.33" r="1.7" fill="#000000"/><circle cx="396.06" cy="469.84" r="1.7" fill="#000000"/><circle cx="398.95" cy="469.02" r="1.7" fill="#000000"/><circle cx="401.72" cy="467.89" r="1.7" fill="#000000"/><circle cx="404.29" cy="466.35" r="1.7" fill="#000000"/><circle cx="406.66" cy="464.50" r="1.7" fill="#000000"/><circle cx="408.90" cy="462.52" r="1.7" fill="#000000"/><circle cx="410.98" cy="460.35" r="1.7" fill="#000000"/><circle cx="413.03" cy="458.16" r="1.7" fill="#000000"/><circle cx="415.35" cy="456.26" r="1.7" fill="#000000"/><circle cx="417.90" cy="454.69" r="1.7" fill="#000000"/><circle cx="420.61" cy="453.41" r="1.7" fill="#000000"/><circle cx="423.46" cy="452.49" r="1.7" fill="#000000"/><circle cx="426.38" cy="451.79" r="1.7" fill="#000000"/><circle cx="429.34" cy="451.32" r="1.7" fill="#000000"/><circle cx="432.28" cy="450.73" r="1.7" fill="#000000"/><circle cx="435.17" cy="449.92" r="1.7" fill="#000000"/><circle cx="438.04" cy="449.03" r="1.7" fill="#000000"/><circle cx="440.89" cy="448.11" r="1.7" fill="#000000"/><circle cx="443.72" cy="447.12" r="1.7" fill="#000000"/><circle cx="446.26" cy="445.55" r="1.7" fill="#000000"/><circle cx="450.60" cy="436.90" r="1.7" fill="#000000"/><circle cx="453.40" cy="428.50" r="1.7" fill="#000000"/><circle cx="455.50" cy="419.50" r="1.7" fill="#000000"/><circle cx="457.10" cy="411.70" r="1.7" fill="#000000"/><circle cx="459.00" cy="401.50" r="1.7" fill="#000000"/><circle cx="461.30" cy="390.50" r="1.7" fill="#000000"/><circle cx="463.20" cy="376.10" r="1.7" fill="#000000"/><circle cx="466.00" cy="359.70" r="1.7" fill="#000000"/><circle cx="468.80" cy="340.10" r="1.7" fill="#000000"/><circle cx="473.30" cy="317.20" r="1.7" fill="#000000"/><path d="M381.50,474.50 C381.92,473.67 383.22,471.13 384.00,469.50 C384.78,467.87 385.37,466.20 386.20,464.70 C387.03,463.20 388.07,461.80 389.00,460.50 C389.93,459.20 390.88,458.07 391.80,456.90 C392.72,455.73 393.57,454.52 394.50,453.50 C395.43,452.48 395.98,452.10 397.40,450.80 C398.82,449.50 401.13,447.28 403.00,445.70 C404.87,444.12 406.75,442.60 408.60,441.30 C410.45,440.00 412.25,438.93 414.10,437.90 C415.95,436.87 418.02,435.93 419.70,435.10 C421.38,434.27 422.32,433.63 424.20,432.90 C426.08,432.17 428.32,431.18 431.00,430.70 C433.68,430.22 437.20,430.00 440.30,430.00 C443.40,430.00 446.82,430.28 449.60,430.70 C452.38,431.12 454.82,431.93 457.00,432.50 C459.18,433.07 460.95,433.05 462.70,434.10 C464.45,435.15 465.47,437.08 467.50,438.80 C469.53,440.52 472.82,443.12 474.90,444.40 C476.98,445.68 478.13,445.88 480.00,446.50 C481.87,447.12 484.30,448.62 486.10,448.10 C487.90,447.58 489.55,445.73 490.80,443.40 C492.05,441.07 492.67,437.20 493.60,434.10 C494.53,431.00 495.63,427.60 496.40,424.80 C497.17,422.00 497.67,419.88 498.20,417.30 C498.73,414.72 499.18,412.32 499.60,409.30 C500.02,406.28 500.17,402.87 500.70,399.20 C501.23,395.53 502.15,391.62 502.80,387.30 C503.45,382.98 503.83,378.47 504.60,373.30 C505.37,368.13 506.47,362.37 507.40,356.30 C508.33,350.23 509.73,340.13 510.20,336.90" fill="none" stroke="#5a8ff0" stroke-width="0.8"/><path d="M381.50,471.75 L384.05,476.34 L378.95,476.34Z" fill="#1a62e6"/><path d="M383.03,468.71 L385.58,473.30 L380.48,473.30Z" fill="#1a62e6"/><path d="M384.50,465.65 L387.05,470.24 L381.95,470.24Z" fill="#1a62e6"/><path d="M385.89,462.54 L388.44,467.13 L383.34,467.13Z" fill="#1a62e6"/><path d="M387.65,459.64 L390.20,464.23 L385.10,464.23Z" fill="#1a62e6"/><path d="M389.64,456.88 L392.19,461.47 L387.09,461.47Z" fill="#1a62e6"/><path d="M391.75,454.21 L394.30,458.80 L389.20,458.80Z" fill="#1a62e6"/><path d="M393.83,451.52 L396.38,456.11 L391.28,456.11Z" fill="#1a62e6"/><path d="M396.21,449.11 L398.76,453.70 L393.66,453.70Z" fill="#1a62e6"/><path d="M398.73,446.82 L401.28,451.41 L396.18,451.41Z" fill="#1a62e6"/><path d="M401.22,444.51 L403.77,449.10 L398.67,449.10Z" fill="#1a62e6"/><path d="M403.79,442.28 L406.34,446.87 L401.24,446.87Z" fill="#1a62e6"/><path d="M406.44,440.15 L408.99,444.74 L403.89,444.74Z" fill="#1a62e6"/><path d="M409.18,438.14 L411.73,442.73 L406.63,442.73Z" fill="#1a62e6"/><path d="M412.05,436.32 L414.60,440.91 L409.50,440.91Z" fill="#1a62e6"/><path d="M415.01,434.65 L417.56,439.24 L412.46,439.24Z" fill="#1a62e6"/><path d="M418.06,433.14 L420.61,437.73 L415.51,437.73Z" fill="#1a62e6"/><path d="M421.10,431.62 L423.65,436.21 L418.55,436.21Z" fill="#1a62e6"/><path d="M424.17,430.16 L426.72,434.75 L421.62,434.75Z" fill="#1a62e6"/><path d="M427.34,428.94 L429.89,433.53 L424.79,433.53Z" fill="#1a62e6"/><path d="M430.61,428.02 L433.16,432.61 L428.06,432.61Z" fill="#1a62e6"/><path d="M433.98,427.54 L436.53,432.13 L431.43,432.13Z" fill="#1a62e6"/><path d="M437.37,427.31 L439.92,431.90 L434.82,431.90Z" fill="#1a62e6"/><path d="M440.77,427.25 L443.32,431.84 L438.22,431.84Z" fill="#1a62e6"/><path d="M444.17,427.38 L446.72,431.97 L441.62,431.97Z" fill="#1a62e6"/><path d="M447.55,427.68 L450.10,432.27 L445.00,432.27Z" fill="#1a62e6"/><path d="M450.91,428.18 L453.46,432.77 L448.36,432.77Z" fill="#1a62e6"/><path d="M454.22,428.98 L456.77,433.57 L451.67,433.57Z" fill="#1a62e6"/><path d="M457.50,429.87 L460.05,434.46 L454.95,434.46Z" fill="#1a62e6"/><path d="M459.85,430.33 L462.40,434.92 L457.30,434.92Z" fill="#1a62e6"/><path d="M462.14,431.04 L464.69,435.63 L459.59,435.63Z" fill="#1a62e6"/><path d="M464.07,432.45 L466.62,437.04 L461.52,437.04Z" fill="#1a62e6"/><path d="M465.68,434.23 L468.23,438.82 L463.13,438.82Z" fill="#1a62e6"/><path d="M467.37,435.93 L469.92,440.52 L464.82,440.52Z" fill="#1a62e6"/><path d="M469.22,437.46 L471.77,442.05 L466.67,442.05Z" fill="#1a62e6"/><path d="M471.10,438.95 L473.65,443.54 L468.55,443.54Z" fill="#1a62e6"/><path d="M473.02,440.38 L475.57,444.97 L470.47,444.97Z" fill="#1a62e6"/><path d="M475.02,441.72 L477.57,446.31 L472.47,446.31Z" fill="#1a62e6"/><path d="M477.16,442.80 L479.71,447.39 L474.61,447.39Z" fill="#1a62e6"/><path d="M479.43,443.56 L481.98,448.15 L476.88,448.15Z" fill="#1a62e6"/><path d="M481.68,444.41 L484.23,449.00 L479.13,449.00Z" fill="#1a62e6"/><path d="M483.92,445.24 L486.47,449.83 L481.37,449.83Z" fill="#1a62e6"/><path d="M486.28,445.29 L488.83,449.88 L483.73,449.88Z" fill="#1a62e6"/><path d="M488.30,444.02 L490.85,448.61 L485.75,448.61Z" fill="#1a62e6"/><path d="M489.86,442.20 L492.41,446.79 L487.31,446.79Z" fill="#1a62e6"/><path d="M491.05,440.12 L493.60,444.71 L488.50,444.71Z" fill="#1a62e6"/><path d="M491.88,437.87 L494.43,442.46 L489.33,442.46Z" fill="#1a62e6"/><path d="M492.53,435.56 L495.08,440.15 L489.98,440.15Z" fill="#1a62e6"/><path d="M493.12,433.23 L495.67,437.82 L490.57,437.82Z" fill="#1a62e6"/><path d="M496.40,422.05 L498.95,426.64 L493.85,426.64Z" fill="#1a62e6"/><path d="M498.20,414.55 L500.75,419.14 L495.65,419.14Z" fill="#1a62e6"/><path d="M499.60,406.55 L502.15,411.14 L497.05,411.14Z" fill="#1a62e6"/><path d="M500.70,396.45 L503.25,401.04 L498.15,401.04Z" fill="#1a62e6"/><path d="M502.80,384.55 L505.35,389.14 L500.25,389.14Z" fill="#1a62e6"/><path d="M504.60,370.55 L507.15,375.14 L502.05,375.14Z" fill="#1a62e6"/><path d="M507.40,353.55 L509.95,358.14 L504.85,358.14Z" fill="#1a62e6"/><path d="M510.20,334.15 L512.75,338.74 L507.65,338.74Z" fill="#1a62e6"/><path d="M379.50,471.00 C380.08,470.50 381.88,468.67 383.00,468.00 C384.12,467.33 384.73,467.00 386.20,467.00 C387.67,467.00 389.93,467.92 391.80,468.00 C393.67,468.08 395.53,468.00 397.40,467.50 C399.27,467.00 401.13,466.17 403.00,465.00 C404.87,463.83 406.75,462.08 408.60,460.50 C410.45,458.92 412.25,457.00 414.10,455.50 C415.95,454.00 417.82,452.42 419.70,451.50 C421.58,450.58 423.35,450.25 425.40,450.00 C427.45,449.75 429.52,450.00 432.00,450.00 C434.48,450.00 437.37,450.17 440.30,450.00 C443.23,449.83 447.15,449.83 449.60,449.00 C452.05,448.17 453.43,446.55 455.00,445.00 C456.57,443.45 457.67,442.03 459.00,439.70 C460.33,437.37 461.77,433.80 463.00,431.00 C464.23,428.20 465.22,426.42 466.40,422.90 C467.58,419.38 469.00,413.55 470.10,409.90 C471.20,406.25 471.97,403.77 473.00,401.00 C474.03,398.23 475.23,396.52 476.30,393.30 C477.37,390.08 478.32,385.83 479.40,381.70 C480.48,377.57 481.65,373.25 482.80,368.50 C483.95,363.75 485.72,355.75 486.30,353.20" fill="none" stroke="#ffff40" stroke-width="0.8"/><path d="M379.50,473.81 L382.10,469.13 L376.90,469.13Z" fill="#ffff00"/><path d="M382.02,471.53 L384.62,466.85 L379.42,466.85Z" fill="#ffff00"/><path d="M384.98,469.92 L387.58,465.24 L382.38,465.24Z" fill="#ffff00"/><path d="M388.34,470.15 L390.94,465.47 L385.74,465.47Z" fill="#ffff00"/><path d="M391.68,470.80 L394.28,466.12 L389.08,466.12Z" fill="#ffff00"/><path d="M395.07,470.73 L397.67,466.05 L392.47,466.05Z" fill="#ffff00"/><path d="M398.39,470.01 L400.99,465.33 L395.79,465.33Z" fill="#ffff00"/><path d="M401.51,468.67 L404.11,463.99 L398.91,463.99Z" fill="#ffff00"/><path d="M404.38,466.85 L406.98,462.17 L401.78,462.17Z" fill="#ffff00"/><path d="M407.00,464.69 L409.60,460.01 L404.40,460.01Z" fill="#ffff00"/><path d="M409.56,462.46 L412.16,457.78 L406.96,457.78Z" fill="#ffff00"/><path d="M412.04,460.13 L414.64,455.45 L409.44,455.45Z" fill="#ffff00"/><path d="M414.60,457.90 L417.20,453.22 L412.00,453.22Z" fill="#ffff00"/><path d="M417.28,455.80 L419.88,451.12 L414.68,451.12Z" fill="#ffff00"/><path d="M420.20,454.08 L422.80,449.40 L417.60,449.40Z" fill="#ffff00"/><path d="M423.45,453.10 L426.05,448.42 L420.85,448.42Z" fill="#ffff00"/><path d="M426.82,452.71 L429.42,448.03 L424.22,448.03Z" fill="#ffff00"/><path d="M430.22,452.77 L432.82,448.09 L427.62,448.09Z" fill="#ffff00"/><path d="M433.62,452.83 L436.22,448.15 L431.02,448.15Z" fill="#ffff00"/><path d="M437.02,452.88 L439.62,448.20 L434.42,448.20Z" fill="#ffff00"/><path d="M440.42,452.80 L443.02,448.12 L437.82,448.12Z" fill="#ffff00"/><path d="M443.82,452.64 L446.42,447.96 L441.22,447.96Z" fill="#ffff00"/><path d="M447.20,452.34 L449.80,447.66 L444.60,447.66Z" fill="#ffff00"/><path d="M450.47,451.46 L453.07,446.78 L447.87,446.78Z" fill="#ffff00"/><path d="M453.25,449.53 L455.85,444.85 L450.65,444.85Z" fill="#ffff00"/><path d="M455.66,447.13 L458.26,442.45 L453.06,442.45Z" fill="#ffff00"/><path d="M457.78,444.48 L460.38,439.80 L455.18,439.80Z" fill="#ffff00"/><path d="M459.52,441.55 L462.12,436.87 L456.92,436.87Z" fill="#ffff00"/><path d="M460.97,438.48 L463.57,433.80 L458.37,433.80Z" fill="#ffff00"/><path d="M462.32,435.36 L464.92,430.68 L459.72,430.68Z" fill="#ffff00"/><path d="M463.68,432.24 L466.28,427.56 L461.08,427.56Z" fill="#ffff00"/><path d="M464.99,429.11 L467.59,424.43 L462.39,424.43Z" fill="#ffff00"/><path d="M466.29,425.97 L468.89,421.29 L463.69,421.29Z" fill="#ffff00"/><path d="M466.40,425.71 L469.00,421.03 L463.80,421.03Z" fill="#ffff00"/><path d="M470.10,412.71 L472.70,408.03 L467.50,408.03Z" fill="#ffff00"/><path d="M473.00,403.81 L475.60,399.13 L470.40,399.13Z" fill="#ffff00"/><path d="M476.30,396.11 L478.90,391.43 L473.70,391.43Z" fill="#ffff00"/><path d="M479.40,384.51 L482.00,379.83 L476.80,379.83Z" fill="#ffff00"/><path d="M482.80,371.31 L485.40,366.63 L480.20,366.63Z" fill="#ffff00"/><path d="M486.30,356.01 L488.90,351.33 L483.70,351.33Z" fill="#ffff00"/><path d="M380.00,476.50 C380.50,476.00 381.97,474.48 383.00,473.50 C384.03,472.52 384.73,471.48 386.20,470.60 C387.67,469.72 389.93,469.07 391.80,468.20 C393.67,467.33 395.53,466.53 397.40,465.40 C399.27,464.27 401.13,462.95 403.00,461.40 C404.87,459.85 406.75,457.77 408.60,456.10 C410.45,454.43 412.25,452.83 414.10,451.40 C415.95,449.97 417.82,448.65 419.70,447.50 C421.58,446.35 423.35,445.28 425.40,444.50 C427.45,443.72 429.52,443.13 432.00,442.80 C434.48,442.47 437.63,442.47 440.30,442.50 C442.97,442.53 445.20,442.85 448.00,443.00 C450.80,443.15 454.77,443.73 457.10,443.40 C459.43,443.07 460.75,441.93 462.00,441.00 C463.25,440.07 463.77,439.80 464.60,437.80 C465.43,435.80 466.23,432.42 467.00,429.00 C467.77,425.58 468.53,421.13 469.20,417.30 C469.87,413.47 470.38,409.63 471.00,406.00 C471.62,402.37 472.27,399.48 472.90,395.50 C473.53,391.52 474.02,386.77 474.80,382.10 C475.58,377.43 476.73,372.85 477.60,367.50 C478.47,362.15 478.98,356.58 480.00,350.00 C481.02,343.42 483.08,331.67 483.70,328.00" fill="none" stroke="#c8c8c8" stroke-width="0.8"/><path d="M380.00,473.81 L382.69,476.50 L380.00,479.19 L377.31,476.50Z" fill="#b8b8b8"/><path d="M382.39,471.39 L385.09,474.09 L382.39,476.78 L379.70,474.09Z" fill="#b8b8b8"/><path d="M384.79,468.98 L387.48,471.67 L384.79,474.37 L382.09,471.67Z" fill="#b8b8b8"/><path d="M387.65,467.18 L390.35,469.88 L387.65,472.57 L384.96,469.88Z" fill="#b8b8b8"/><path d="M390.81,465.93 L393.51,468.63 L390.81,471.32 L388.12,468.63Z" fill="#b8b8b8"/><path d="M393.91,464.53 L396.61,467.23 L393.91,469.92 L391.22,467.23Z" fill="#b8b8b8"/><path d="M396.94,462.98 L399.63,465.67 L396.94,468.37 L394.24,465.67Z" fill="#b8b8b8"/><path d="M399.80,461.14 L402.49,463.84 L399.80,466.53 L397.10,463.84Z" fill="#b8b8b8"/><path d="M402.51,459.10 L405.21,461.80 L402.51,464.49 L399.82,461.80Z" fill="#b8b8b8"/><path d="M405.05,456.84 L407.74,459.53 L405.05,462.23 L402.35,459.53Z" fill="#b8b8b8"/><path d="M407.48,454.46 L410.17,457.15 L407.48,459.85 L404.78,457.15Z" fill="#b8b8b8"/><path d="M409.99,452.16 L412.68,454.86 L409.99,457.55 L407.29,454.86Z" fill="#b8b8b8"/><path d="M412.56,449.94 L415.25,452.64 L412.56,455.33 L409.86,452.64Z" fill="#b8b8b8"/><path d="M415.23,447.84 L417.93,450.54 L415.23,453.23 L412.54,450.54Z" fill="#b8b8b8"/><path d="M418.01,445.88 L420.71,448.58 L418.01,451.27 L415.32,448.58Z" fill="#b8b8b8"/><path d="M420.89,444.08 L423.59,446.78 L420.89,449.47 L418.20,446.78Z" fill="#b8b8b8"/><path d="M423.88,442.46 L426.57,445.15 L423.88,447.85 L421.18,445.15Z" fill="#b8b8b8"/><path d="M427.05,441.22 L429.74,443.92 L427.05,446.61 L424.35,443.92Z" fill="#b8b8b8"/><path d="M430.34,440.38 L433.03,443.07 L430.34,445.77 L427.64,443.07Z" fill="#b8b8b8"/><path d="M433.70,439.93 L436.40,442.63 L433.70,445.32 L431.01,442.63Z" fill="#b8b8b8"/><path d="M437.10,439.80 L439.80,442.49 L437.10,445.19 L434.41,442.49Z" fill="#b8b8b8"/><path d="M440.50,439.81 L443.20,442.50 L440.50,445.20 L437.81,442.50Z" fill="#b8b8b8"/><path d="M443.90,439.99 L446.59,442.69 L443.90,445.38 L441.20,442.69Z" fill="#b8b8b8"/><path d="M447.29,440.26 L449.98,442.96 L447.29,445.65 L444.59,442.96Z" fill="#b8b8b8"/><path d="M450.68,440.51 L453.37,443.21 L450.68,445.90 L447.98,443.21Z" fill="#b8b8b8"/><path d="M454.07,440.77 L456.76,443.47 L454.07,446.16 L451.37,443.47Z" fill="#b8b8b8"/><path d="M457.46,440.65 L460.15,443.34 L457.46,446.04 L454.76,443.34Z" fill="#b8b8b8"/><path d="M460.57,439.35 L463.27,442.04 L460.57,444.74 L457.88,442.04Z" fill="#b8b8b8"/><path d="M463.28,437.29 L465.97,439.99 L463.28,442.68 L460.58,439.99Z" fill="#b8b8b8"/><path d="M464.89,434.33 L467.58,437.03 L464.89,439.72 L462.19,437.03Z" fill="#b8b8b8"/><path d="M465.82,431.06 L468.52,433.76 L465.82,436.45 L463.13,433.76Z" fill="#b8b8b8"/><path d="M466.64,427.76 L469.33,430.46 L466.64,433.15 L463.94,430.46Z" fill="#b8b8b8"/><path d="M467.00,426.31 L469.69,429.00 L467.00,431.69 L464.31,429.00Z" fill="#b8b8b8"/><path d="M469.20,414.61 L471.89,417.30 L469.20,420.00 L466.50,417.30Z" fill="#b8b8b8"/><path d="M471.00,403.31 L473.69,406.00 L471.00,408.69 L468.31,406.00Z" fill="#b8b8b8"/><path d="M472.90,392.81 L475.59,395.50 L472.90,398.19 L470.20,395.50Z" fill="#b8b8b8"/><path d="M474.80,379.41 L477.50,382.10 L474.80,384.80 L472.11,382.10Z" fill="#b8b8b8"/><path d="M477.60,364.81 L480.30,367.50 L477.60,370.19 L474.91,367.50Z" fill="#b8b8b8"/><path d="M480.00,347.31 L482.69,350.00 L480.00,352.69 L477.31,350.00Z" fill="#b8b8b8"/><path d="M483.70,325.31 L486.39,328.00 L483.70,330.69 L481.00,328.00Z" fill="#b8b8b8"/></g><circle cx="453.40" cy="425.70" r="2.3" fill="#000000"/><circle cx="457.10" cy="411.70" r="2.3" fill="#000000"/><circle cx="459.00" cy="401.50" r="2.3" fill="#000000"/><circle cx="461.30" cy="390.50" r="2.3" fill="#000000"/><circle cx="463.20" cy="376.10" r="2.3" fill="#000000"/><circle cx="466.00" cy="359.70" r="2.3" fill="#000000"/><circle cx="468.80" cy="340.10" r="2.3" fill="#000000"/><circle cx="473.30" cy="317.20" r="2.3" fill="#000000"/><line x1="389.9" y1="288.4" x2="411.5" y2="288.4" stroke="#ff6060" stroke-width="1.0"/><rect x="398.35" y="285.95" width="4.9" height="4.9" fill="#ff0000"/><text transform="translate(417.80 292.00) scale(1 1.1)" font-family="Liberation Serif" font-size="10.6" fill="#222">120<tspan font-size="7.95" dy="-0.64" dx="0.32">°</tspan><tspan dy="0.64" dx="-1.27">C</tspan></text><line x1="389.9" y1="301.02" x2="411.5" y2="301.02" stroke="#a0a0a0" stroke-width="1.8"/><circle cx="400.80" cy="301.02" r="2.45" fill="#000000"/><text transform="translate(417.80 304.62) scale(1 1.1)" font-family="Liberation Serif" font-size="10.6" fill="#222">130<tspan font-size="7.95" dy="-0.64" dx="0.32">°</tspan><tspan dy="0.64" dx="-1.27">C</tspan></text><line x1="389.9" y1="313.64" x2="411.5" y2="313.64" stroke="#6a9cf0" stroke-width="1.0"/><path d="M400.80,310.40 L403.80,315.80 L397.80,315.80Z" fill="#1a62e6"/><text transform="translate(417.80 317.24) scale(1 1.1)" font-family="Liberation Serif" font-size="10.6" fill="#222">140<tspan font-size="7.95" dy="-0.64" dx="0.32">°</tspan><tspan dy="0.64" dx="-1.27">C</tspan></text><line x1="389.9" y1="326.26" x2="411.5" y2="326.26" stroke="#ffff50" stroke-width="1.0"/><path d="M400.80,329.50 L403.80,324.10 L397.80,324.10Z" fill="#ffff00"/><text transform="translate(417.80 329.86) scale(1 1.1)" font-family="Liberation Serif" font-size="10.6" fill="#222">150<tspan font-size="7.95" dy="-0.64" dx="0.32">°</tspan><tspan dy="0.64" dx="-1.27">C</tspan></text><line x1="389.9" y1="338.88" x2="411.5" y2="338.88" stroke="#d8d8d8" stroke-width="1.0"/><path d="M400.80,335.58 L404.10,338.88 L400.80,342.18 L397.50,338.88Z" fill="#b8b8b8"/><text transform="translate(417.80 342.48) scale(1 1.1)" font-family="Liberation Serif" font-size="10.6" fill="#222">160<tspan font-size="7.95" dy="-0.64" dx="0.32">°</tspan><tspan dy="0.64" dx="-1.27">C</tspan></text><rect x="521.3" y="278.6" width="107.30000000000007" height="87.39999999999998" fill="#fff"/><line x1="521.3" y1="278.6" x2="521.3" y2="366.0" stroke="#555" stroke-width="0.8"/><line x1="521.3" y1="366.0" x2="628.6" y2="366.0" stroke="#555" stroke-width="0.8"/><line x1="519.5" y1="365.40" x2="521.3" y2="365.40" stroke="#555" stroke-width="0.6"/><text transform="translate(518.70 366.70) scale(1 1.08)" font-family="Liberation Sans" font-size="3.6" text-anchor="end" fill="#333">0</text><line x1="519.5" y1="351.00" x2="521.3" y2="351.00" stroke="#555" stroke-width="0.6"/><text transform="translate(518.70 352.30) scale(1 1.08)" font-family="Liberation Sans" font-size="3.6" text-anchor="end" fill="#333">50</text><line x1="519.5" y1="336.60" x2="521.3" y2="336.60" stroke="#555" stroke-width="0.6"/><text transform="translate(518.70 337.90) scale(1 1.08)" font-family="Liberation Sans" font-size="3.6" text-anchor="end" fill="#333">100</text><line x1="519.5" y1="322.20" x2="521.3" y2="322.20" stroke="#555" stroke-width="0.6"/><text transform="translate(518.70 323.50) scale(1 1.08)" font-family="Liberation Sans" font-size="3.6" text-anchor="end" fill="#333">150</text><line x1="519.5" y1="307.80" x2="521.3" y2="307.80" stroke="#555" stroke-width="0.6"/><text transform="translate(518.70 309.10) scale(1 1.08)" font-family="Liberation Sans" font-size="3.6" text-anchor="end" fill="#333">200</text><line x1="519.5" y1="293.40" x2="521.3" y2="293.40" stroke="#555" stroke-width="0.6"/><text transform="translate(518.70 294.70) scale(1 1.08)" font-family="Liberation Sans" font-size="3.6" text-anchor="end" fill="#333">250</text><line x1="520.3" y1="358.20" x2="521.3" y2="358.20" stroke="#555" stroke-width="0.5"/><line x1="520.3" y1="343.80" x2="521.3" y2="343.80" stroke="#555" stroke-width="0.5"/><line x1="520.3" y1="329.40" x2="521.3" y2="329.40" stroke="#555" stroke-width="0.5"/><line x1="520.3" y1="315.00" x2="521.3" y2="315.00" stroke="#555" stroke-width="0.5"/><line x1="520.3" y1="300.60" x2="521.3" y2="300.60" stroke="#555" stroke-width="0.5"/><line x1="520.3" y1="286.20" x2="521.3" y2="286.20" stroke="#555" stroke-width="0.5"/><line x1="521.30" y1="366.0" x2="521.30" y2="367.8" stroke="#555" stroke-width="0.6"/><text transform="translate(521.30 371.60) scale(1 1.08)" font-family="Liberation Sans" font-size="3.6" text-anchor="middle" fill="#333">0</text><line x1="542.76" y1="366.0" x2="542.76" y2="367.8" stroke="#555" stroke-width="0.6"/><text transform="translate(542.76 371.60) scale(1 1.08)" font-family="Liberation Sans" font-size="3.6" text-anchor="middle" fill="#333">100</text><line x1="564.22" y1="366.0" x2="564.22" y2="367.8" stroke="#555" stroke-width="0.6"/><text transform="translate(564.22 371.60) scale(1 1.08)" font-family="Liberation Sans" font-size="3.6" text-anchor="middle" fill="#333">200</text><line x1="585.68" y1="366.0" x2="585.68" y2="367.8" stroke="#555" stroke-width="0.6"/><text transform="translate(585.68 371.60) scale(1 1.08)" font-family="Liberation Sans" font-size="3.6" text-anchor="middle" fill="#333">300</text><line x1="607.14" y1="366.0" x2="607.14" y2="367.8" stroke="#555" stroke-width="0.6"/><text transform="translate(607.14 371.60) scale(1 1.08)" font-family="Liberation Sans" font-size="3.6" text-anchor="middle" fill="#333">400</text><line x1="628.60" y1="366.0" x2="628.60" y2="367.8" stroke="#555" stroke-width="0.6"/><text transform="translate(628.60 371.60) scale(1 1.08)" font-family="Liberation Sans" font-size="3.6" text-anchor="middle" fill="#333">500</text><line x1="532.03" y1="366.0" x2="532.03" y2="367.0" stroke="#555" stroke-width="0.5"/><line x1="553.49" y1="366.0" x2="553.49" y2="367.0" stroke="#555" stroke-width="0.5"/><line x1="574.95" y1="366.0" x2="574.95" y2="367.0" stroke="#555" stroke-width="0.5"/><line x1="596.41" y1="366.0" x2="596.41" y2="367.0" stroke="#555" stroke-width="0.5"/><line x1="617.87" y1="366.0" x2="617.87" y2="367.0" stroke="#555" stroke-width="0.5"/><clipPath id="ic"><rect x="521.3" y="278.6" width="107.3" height="87.4"/></clipPath><g clip-path="url(#ic)"><path d="M521.20,362.00 C521.52,361.17 522.47,358.47 523.10,357.00 C523.73,355.53 524.32,354.57 525.00,353.20 C525.68,351.83 526.52,350.00 527.20,348.80 C527.88,347.60 528.48,346.88 529.10,346.00 C529.72,345.12 530.28,344.33 530.90,343.50 C531.52,342.67 532.12,341.90 532.80,341.00 C533.48,340.10 534.22,339.08 535.00,338.10 C535.78,337.12 536.58,336.12 537.50,335.10 C538.42,334.08 539.43,333.05 540.50,332.00 C541.57,330.95 542.75,329.75 543.90,328.80 C545.05,327.85 546.13,327.23 547.40,326.30 C548.67,325.37 550.30,324.08 551.50,323.20 C552.70,322.32 553.10,321.80 554.60,321.00 C556.10,320.20 558.67,319.17 560.50,318.40 C562.33,317.63 563.92,317.00 565.60,316.40 C567.28,315.80 568.92,315.32 570.60,314.80 C572.28,314.28 573.68,313.83 575.70,313.30 C577.72,312.77 580.05,312.20 582.70,311.60 C585.35,311.00 589.28,310.18 591.60,309.70 C593.92,309.22 594.80,308.97 596.60,308.70 C598.40,308.43 600.48,308.32 602.40,308.10 C604.32,307.88 606.32,307.62 608.10,307.40 C609.88,307.18 611.30,307.02 613.10,306.80 C614.90,306.58 616.98,306.35 618.90,306.10 C620.82,305.85 622.75,305.50 624.60,305.30 C626.45,305.10 629.10,304.97 630.00,304.90" fill="none" stroke="#ff6060" stroke-width="0.6"/><rect x="520.05" y="360.85" width="2.3" height="2.3" fill="#ff0000"/><rect x="520.95" y="358.41" width="2.3" height="2.3" fill="#ff0000"/><rect x="521.95" y="355.84" width="2.3" height="2.3" fill="#ff0000"/><rect x="523.24" y="353.22" width="2.3" height="2.3" fill="#ff0000"/><rect x="524.63" y="350.45" width="2.3" height="2.3" fill="#ff0000"/><rect x="526.12" y="347.53" width="2.3" height="2.3" fill="#ff0000"/><rect x="528.08" y="344.66" width="2.3" height="2.3" fill="#ff0000"/><rect x="530.25" y="341.68" width="2.3" height="2.3" fill="#ff0000"/><rect x="532.61" y="338.56" width="2.3" height="2.3" fill="#ff0000"/><rect x="535.18" y="335.31" width="2.3" height="2.3" fill="#ff0000"/><rect x="538.14" y="332.06" width="2.3" height="2.3" fill="#ff0000"/><rect x="541.46" y="328.80" width="2.3" height="2.3" fill="#ff0000"/><rect x="545.35" y="325.78" width="2.3" height="2.3" fill="#ff0000"/><rect x="549.36" y="322.79" width="2.3" height="2.3" fill="#ff0000"/><rect x="553.41" y="319.87" width="2.3" height="2.3" fill="#ff0000"/><rect x="557.97" y="317.82" width="2.3" height="2.3" fill="#ff0000"/><rect x="562.60" y="315.94" width="2.3" height="2.3" fill="#ff0000"/><rect x="567.32" y="314.30" width="2.3" height="2.3" fill="#ff0000"/><rect x="572.10" y="312.84" width="2.3" height="2.3" fill="#ff0000"/><rect x="576.93" y="311.54" width="2.3" height="2.3" fill="#ff0000"/><rect x="581.80" y="310.39" width="2.3" height="2.3" fill="#ff0000"/><rect x="586.69" y="309.34" width="2.3" height="2.3" fill="#ff0000"/><rect x="591.58" y="308.31" width="2.3" height="2.3" fill="#ff0000"/><rect x="596.50" y="307.41" width="2.3" height="2.3" fill="#ff0000"/><rect x="601.47" y="306.92" width="2.3" height="2.3" fill="#ff0000"/><rect x="606.43" y="306.31" width="2.3" height="2.3" fill="#ff0000"/><rect x="611.40" y="305.72" width="2.3" height="2.3" fill="#ff0000"/><rect x="616.36" y="305.13" width="2.3" height="2.3" fill="#ff0000"/><rect x="621.31" y="304.43" width="2.3" height="2.3" fill="#ff0000"/><rect x="626.29" y="303.91" width="2.3" height="2.3" fill="#ff0000"/><path d="M521.20,363.80 C521.47,363.62 521.60,363.52 522.80,362.70 C524.00,361.88 526.42,359.85 528.40,358.90 C530.38,357.95 532.80,357.52 534.70,357.00 C536.60,356.48 538.22,356.53 539.80,355.80 C541.38,355.07 542.73,353.82 544.20,352.60 C545.67,351.38 547.13,349.65 548.60,348.50 C550.07,347.35 551.43,346.63 553.00,345.70 C554.57,344.77 556.43,343.68 558.00,342.90 C559.57,342.12 560.60,341.48 562.40,341.00 C564.20,340.52 566.87,340.13 568.80,340.00 C570.73,339.87 572.10,340.17 574.00,340.20 C575.90,340.23 578.33,340.32 580.20,340.20 C582.07,340.08 583.73,340.13 585.20,339.50 C586.67,338.87 587.83,337.98 589.00,336.40 C590.17,334.82 591.35,331.80 592.20,330.00 C593.05,328.20 593.57,326.97 594.10,325.60 C594.63,324.23 594.92,323.55 595.40,321.80 C595.88,320.05 596.53,317.32 597.00,315.10 C597.47,312.88 597.68,311.08 598.20,308.50 C598.72,305.92 599.45,302.78 600.10,299.60 C600.75,296.42 601.45,292.78 602.10,289.40 C602.75,286.02 603.63,281.28 604.00,279.30 C604.37,277.32 604.25,277.80 604.30,277.50" fill="none" stroke="#444" stroke-width="0.6"/><circle cx="521.20" cy="363.80" r="1.15" fill="#000000"/><circle cx="523.01" cy="362.55" r="1.15" fill="#000000"/><circle cx="524.78" cy="361.24" r="1.15" fill="#000000"/><circle cx="526.57" cy="359.97" r="1.15" fill="#000000"/><circle cx="528.47" cy="358.87" r="1.15" fill="#000000"/><circle cx="530.53" cy="358.09" r="1.15" fill="#000000"/><circle cx="532.65" cy="357.51" r="1.15" fill="#000000"/><circle cx="534.79" cy="356.98" r="1.15" fill="#000000"/><circle cx="536.94" cy="356.55" r="1.15" fill="#000000"/><circle cx="539.09" cy="356.08" r="1.15" fill="#000000"/><circle cx="541.05" cy="355.09" r="1.15" fill="#000000"/><circle cx="542.81" cy="353.77" r="1.15" fill="#000000"/><circle cx="544.49" cy="352.35" r="1.15" fill="#000000"/><circle cx="546.08" cy="350.84" r="1.15" fill="#000000"/><circle cx="547.66" cy="349.31" r="1.15" fill="#000000"/><circle cx="549.37" cy="347.93" r="1.15" fill="#000000"/><circle cx="551.23" cy="346.74" r="1.15" fill="#000000"/><circle cx="553.12" cy="345.63" r="1.15" fill="#000000"/><circle cx="555.02" cy="344.52" r="1.15" fill="#000000"/><circle cx="556.94" cy="343.45" r="1.15" fill="#000000"/><circle cx="558.90" cy="342.44" r="1.15" fill="#000000"/><circle cx="560.89" cy="341.50" r="1.15" fill="#000000"/><circle cx="562.99" cy="340.85" r="1.15" fill="#000000"/><circle cx="565.15" cy="340.43" r="1.15" fill="#000000"/><circle cx="567.33" cy="340.13" r="1.15" fill="#000000"/><circle cx="569.52" cy="339.97" r="1.15" fill="#000000"/><circle cx="571.72" cy="340.06" r="1.15" fill="#000000"/><circle cx="573.91" cy="340.20" r="1.15" fill="#000000"/><circle cx="576.11" cy="340.24" r="1.15" fill="#000000"/><circle cx="578.31" cy="340.26" r="1.15" fill="#000000"/><circle cx="580.51" cy="340.18" r="1.15" fill="#000000"/><circle cx="582.71" cy="340.06" r="1.15" fill="#000000"/><circle cx="584.86" cy="339.63" r="1.15" fill="#000000"/><circle cx="586.80" cy="338.61" r="1.15" fill="#000000"/><circle cx="590.63" cy="333.46" r="1.15" fill="#000000"/><circle cx="593.31" cy="327.54" r="1.15" fill="#000000"/><circle cx="595.50" cy="321.43" r="1.15" fill="#000000"/><circle cx="597.00" cy="315.10" r="1.15" fill="#000000"/><circle cx="598.16" cy="308.71" r="1.15" fill="#000000"/><circle cx="599.52" cy="302.35" r="1.15" fill="#000000"/><circle cx="600.82" cy="295.98" r="1.15" fill="#000000"/><circle cx="602.06" cy="289.60" r="1.15" fill="#000000"/><circle cx="603.27" cy="283.22" r="1.15" fill="#000000"/><path d="M521.20,362.80 C521.47,362.37 522.12,361.27 522.80,360.20 C523.48,359.13 524.47,357.57 525.30,356.40 C526.13,355.23 526.97,354.25 527.80,353.20 C528.63,352.15 529.52,351.13 530.30,350.10 C531.08,349.07 531.77,347.95 532.50,347.00 C533.23,346.05 533.97,345.20 534.70,344.40 C535.43,343.60 536.17,342.97 536.90,342.20 C537.63,341.43 538.37,340.60 539.10,339.80 C539.83,339.00 540.50,338.18 541.30,337.40 C542.10,336.62 542.95,335.85 543.90,335.10 C544.85,334.35 545.95,333.73 547.00,332.90 C548.05,332.07 549.03,330.98 550.20,330.10 C551.37,329.22 552.18,328.62 554.00,327.60 C555.82,326.58 559.07,324.93 561.10,324.00 C563.13,323.07 564.50,322.53 566.20,322.00 C567.90,321.47 569.62,321.15 571.30,320.80 C572.98,320.45 574.62,320.10 576.30,319.90 C577.98,319.70 579.70,319.60 581.40,319.60 C583.10,319.60 584.80,319.75 586.50,319.90 C588.20,320.05 590.02,320.30 591.60,320.50 C593.18,320.70 594.32,320.73 596.00,321.10 C597.68,321.47 600.00,322.12 601.70,322.70 C603.40,323.28 604.82,324.02 606.20,324.60 C607.58,325.18 608.73,325.50 610.00,326.20 C611.27,326.90 612.43,327.95 613.80,328.80 C615.17,329.65 616.62,330.35 618.20,331.30 C619.78,332.25 621.50,333.45 623.30,334.50 C625.10,335.55 628.05,337.08 629.00,337.60" fill="none" stroke="#5a8ff0" stroke-width="0.6"/><path d="M521.20,361.40 L522.50,363.74 L519.90,363.74Z" fill="#1a62e6"/><path d="M522.56,359.18 L523.86,361.52 L521.26,361.52Z" fill="#1a62e6"/><path d="M524.04,356.87 L525.34,359.21 L522.74,359.21Z" fill="#1a62e6"/><path d="M525.67,354.48 L526.97,356.82 L524.37,356.82Z" fill="#1a62e6"/><path d="M527.57,352.09 L528.87,354.43 L526.27,354.43Z" fill="#1a62e6"/><path d="M529.60,349.59 L530.90,351.93 L528.30,351.93Z" fill="#1a62e6"/><path d="M531.60,346.85 L532.90,349.19 L530.30,349.19Z" fill="#1a62e6"/><path d="M533.79,344.01 L535.09,346.35 L532.49,346.35Z" fill="#1a62e6"/><path d="M536.41,341.29 L537.71,343.63 L535.11,343.63Z" fill="#1a62e6"/><path d="M539.13,338.36 L540.43,340.70 L537.83,340.70Z" fill="#1a62e6"/><path d="M542.02,335.31 L543.32,337.65 L540.72,337.65Z" fill="#1a62e6"/><path d="M545.51,332.56 L546.81,334.90 L544.21,334.90Z" fill="#1a62e6"/><path d="M549.12,329.60 L550.42,331.94 L547.82,331.94Z" fill="#1a62e6"/><path d="M553.00,326.78 L554.30,329.12 L551.70,329.12Z" fill="#1a62e6"/><path d="M557.22,324.49 L558.52,326.83 L555.92,326.83Z" fill="#1a62e6"/><path d="M561.54,322.40 L562.84,324.74 L560.24,324.74Z" fill="#1a62e6"/><path d="M566.01,320.66 L567.31,323.00 L564.71,323.00Z" fill="#1a62e6"/><path d="M570.67,319.53 L571.97,321.87 L569.37,321.87Z" fill="#1a62e6"/><path d="M575.38,318.62 L576.68,320.96 L574.08,320.96Z" fill="#1a62e6"/><path d="M580.16,318.21 L581.46,320.55 L578.86,320.55Z" fill="#1a62e6"/><path d="M584.96,318.36 L586.26,320.70 L583.66,320.70Z" fill="#1a62e6"/><path d="M589.73,318.86 L591.03,321.20 L588.43,321.20Z" fill="#1a62e6"/><path d="M594.50,319.43 L595.80,321.77 L593.20,321.77Z" fill="#1a62e6"/><path d="M599.17,320.51 L600.47,322.85 L597.87,322.85Z" fill="#1a62e6"/><path d="M603.70,322.08 L605.00,324.42 L602.40,324.42Z" fill="#1a62e6"/><path d="M608.12,323.94 L609.42,326.28 L606.82,326.28Z" fill="#1a62e6"/><path d="M612.26,326.33 L613.56,328.67 L610.96,328.67Z" fill="#1a62e6"/><path d="M616.35,328.84 L617.65,331.18 L615.05,331.18Z" fill="#1a62e6"/><path d="M620.46,331.32 L621.76,333.66 L619.16,333.66Z" fill="#1a62e6"/><path d="M624.56,333.81 L625.86,336.15 L623.26,336.15Z" fill="#1a62e6"/><path d="M628.79,336.08 L630.09,338.42 L627.49,338.42Z" fill="#1a62e6"/><path d="M521.20,362.50 C521.47,362.12 521.60,361.12 522.80,360.20 C524.00,359.28 526.73,357.80 528.40,357.00 C530.07,356.20 531.22,355.77 532.80,355.40 C534.38,355.03 536.22,355.47 537.90,354.80 C539.58,354.13 541.33,352.60 542.90,351.40 C544.47,350.20 545.83,348.72 547.30,347.60 C548.77,346.48 550.13,345.70 551.70,344.70 C553.27,343.70 554.92,342.47 556.70,341.60 C558.48,340.73 560.38,339.95 562.40,339.50 C564.42,339.05 566.27,338.73 568.80,338.90 C571.33,339.07 574.87,340.28 577.60,340.50 C580.33,340.72 582.87,340.47 585.20,340.20 C587.53,339.93 589.70,339.53 591.60,338.90 C593.50,338.27 595.12,337.35 596.60,336.40 C598.08,335.45 599.33,334.78 600.50,333.20 C601.67,331.62 602.55,329.33 603.60,326.90 C604.65,324.47 605.73,321.03 606.80,318.60 C607.87,316.17 609.05,314.42 610.00,312.30 C610.95,310.18 611.67,308.13 612.50,305.90 C613.33,303.67 614.08,301.43 615.00,298.90 C615.92,296.37 617.03,293.87 618.00,290.70 C618.97,287.53 620.27,282.10 620.80,279.90 C621.33,277.70 621.13,277.90 621.20,277.50" fill="none" stroke="#ee0" stroke-width="0.6"/><path d="M521.20,363.90 L522.50,361.56 L519.90,361.56Z" fill="#ffff00"/><path d="M522.32,362.03 L523.62,359.69 L521.02,359.69Z" fill="#ffff00"/><path d="M524.10,360.74 L525.40,358.40 L522.80,358.40Z" fill="#ffff00"/><path d="M526.00,359.64 L527.30,357.30 L524.70,357.30Z" fill="#ffff00"/><path d="M527.95,358.62 L529.25,356.28 L526.65,356.28Z" fill="#ffff00"/><path d="M529.95,357.71 L531.25,355.37 L528.65,355.37Z" fill="#ffff00"/><path d="M532.03,357.00 L533.33,354.66 L530.73,354.66Z" fill="#ffff00"/><path d="M534.20,356.64 L535.50,354.30 L532.90,354.30Z" fill="#ffff00"/><path d="M536.40,356.55 L537.70,354.21 L535.10,354.21Z" fill="#ffff00"/><path d="M538.49,355.94 L539.79,353.60 L537.19,353.60Z" fill="#ffff00"/><path d="M540.35,354.77 L541.65,352.43 L539.05,352.43Z" fill="#ffff00"/><path d="M542.10,353.43 L543.40,351.09 L540.80,351.09Z" fill="#ffff00"/><path d="M543.82,352.06 L545.12,349.72 L542.52,349.72Z" fill="#ffff00"/><path d="M545.45,350.58 L546.75,348.24 L544.15,348.24Z" fill="#ffff00"/><path d="M547.12,349.15 L548.42,346.81 L545.82,346.81Z" fill="#ffff00"/><path d="M548.91,347.87 L550.21,345.53 L547.61,345.53Z" fill="#ffff00"/><path d="M550.77,346.69 L552.07,344.35 L549.47,344.35Z" fill="#ffff00"/><path d="M552.62,345.50 L553.92,343.16 L551.32,343.16Z" fill="#ffff00"/><path d="M554.45,344.29 L555.75,341.95 L553.15,341.95Z" fill="#ffff00"/><path d="M556.35,343.18 L557.65,340.84 L555.05,340.84Z" fill="#ffff00"/><path d="M558.34,342.25 L559.64,339.91 L557.04,339.91Z" fill="#ffff00"/><path d="M560.40,341.46 L561.70,339.12 L559.10,339.12Z" fill="#ffff00"/><path d="M562.52,340.88 L563.82,338.54 L561.22,338.54Z" fill="#ffff00"/><path d="M564.68,340.47 L565.98,338.13 L563.38,338.13Z" fill="#ffff00"/><path d="M566.87,340.27 L568.17,337.93 L565.57,337.93Z" fill="#ffff00"/><path d="M569.07,340.33 L570.37,337.99 L567.77,337.99Z" fill="#ffff00"/><path d="M571.24,340.67 L572.54,338.33 L569.94,338.33Z" fill="#ffff00"/><path d="M573.39,341.14 L574.69,338.80 L572.09,338.80Z" fill="#ffff00"/><path d="M575.54,341.61 L576.84,339.27 L574.24,339.27Z" fill="#ffff00"/><path d="M577.72,341.91 L579.02,339.57 L576.42,339.57Z" fill="#ffff00"/><path d="M579.91,341.99 L581.21,339.65 L578.61,339.65Z" fill="#ffff00"/><path d="M582.11,341.90 L583.41,339.56 L580.81,339.56Z" fill="#ffff00"/><path d="M584.30,341.70 L585.60,339.36 L583.00,339.36Z" fill="#ffff00"/><path d="M586.49,341.44 L587.79,339.10 L585.19,339.10Z" fill="#ffff00"/><path d="M588.66,341.07 L589.96,338.73 L587.36,338.73Z" fill="#ffff00"/><path d="M590.79,340.55 L592.09,338.21 L589.49,338.21Z" fill="#ffff00"/><path d="M592.87,339.82 L594.17,337.48 L591.57,337.48Z" fill="#ffff00"/><path d="M594.84,338.86 L596.14,336.52 L593.54,336.52Z" fill="#ffff00"/><path d="M596.73,337.72 L598.03,335.38 L595.43,335.38Z" fill="#ffff00"/><path d="M598.57,336.52 L599.87,334.18 L597.27,334.18Z" fill="#ffff00"/><path d="M601.75,332.48 L603.05,330.14 L600.45,330.14Z" fill="#ffff00"/><path d="M603.84,327.72 L605.14,325.38 L602.54,325.38Z" fill="#ffff00"/><path d="M605.67,322.85 L606.97,320.51 L604.37,320.51Z" fill="#ffff00"/><path d="M607.73,318.08 L609.03,315.74 L606.43,315.74Z" fill="#ffff00"/><path d="M610.11,313.46 L611.41,311.12 L608.81,311.12Z" fill="#ffff00"/><path d="M612.01,308.62 L613.31,306.28 L610.71,306.28Z" fill="#ffff00"/><path d="M613.78,303.73 L615.08,301.39 L612.48,301.39Z" fill="#ffff00"/><path d="M615.55,298.84 L616.85,296.50 L614.25,296.50Z" fill="#ffff00"/><path d="M617.39,293.98 L618.69,291.64 L616.09,291.64Z" fill="#ffff00"/><path d="M618.88,289.00 L620.18,286.66 L617.58,286.66Z" fill="#ffff00"/><path d="M620.16,283.96 L621.46,281.62 L618.86,281.62Z" fill="#ffff00"/><path d="M521.20,363.50 C521.88,362.73 523.57,360.18 525.30,358.90 C527.03,357.62 529.50,356.58 531.60,355.80 C533.70,355.02 535.80,355.20 537.90,354.20 C540.00,353.20 542.42,351.43 544.20,349.80 C545.98,348.17 547.25,345.82 548.60,344.40 C549.95,342.98 550.95,342.40 552.30,341.30 C553.65,340.20 555.02,339.10 556.70,337.80 C558.38,336.50 560.38,334.50 562.40,333.50 C564.42,332.50 566.27,332.07 568.80,331.80 C571.33,331.53 574.87,331.82 577.60,331.90 C580.33,331.98 583.08,332.15 585.20,332.30 C587.32,332.45 588.60,332.75 590.30,332.80 C592.00,332.85 593.70,332.90 595.40,332.60 C597.10,332.30 598.92,331.63 600.50,331.00 C602.08,330.37 603.63,329.55 604.90,328.80 C606.17,328.05 607.25,327.78 608.10,326.50 C608.95,325.22 609.48,322.95 610.00,321.10 C610.52,319.25 610.78,317.30 611.20,315.40 C611.62,313.50 612.07,311.92 612.50,309.70 C612.93,307.48 613.38,304.85 613.80,302.10 C614.22,299.35 614.43,296.48 615.00,293.20 C615.57,289.92 616.70,284.93 617.20,282.40 C617.70,279.87 617.87,278.73 618.00,278.00" fill="none" stroke="#bbb" stroke-width="0.6"/><path d="M521.20,362.07 L522.63,363.50 L521.20,364.93 L519.77,363.50Z" fill="#b8b8b8"/><path d="M522.68,360.18 L524.11,361.61 L522.68,363.04 L521.25,361.61Z" fill="#b8b8b8"/><path d="M524.26,358.38 L525.69,359.81 L524.26,361.24 L522.83,359.81Z" fill="#b8b8b8"/><path d="M526.14,356.90 L527.57,358.33 L526.14,359.76 L524.71,358.33Z" fill="#b8b8b8"/><path d="M528.26,355.76 L529.69,357.19 L528.26,358.62 L526.83,357.19Z" fill="#b8b8b8"/><path d="M530.46,354.81 L531.89,356.24 L530.46,357.67 L529.03,356.24Z" fill="#b8b8b8"/><path d="M532.73,354.03 L534.16,355.46 L532.73,356.89 L531.30,355.46Z" fill="#b8b8b8"/><path d="M535.09,353.59 L536.52,355.02 L535.09,356.45 L533.66,355.02Z" fill="#b8b8b8"/><path d="M537.40,352.98 L538.83,354.41 L537.40,355.84 L535.97,354.41Z" fill="#b8b8b8"/><path d="M539.53,351.88 L540.96,353.31 L539.53,354.74 L538.10,353.31Z" fill="#b8b8b8"/><path d="M541.53,350.55 L542.96,351.98 L541.53,353.41 L540.10,351.98Z" fill="#b8b8b8"/><path d="M543.41,349.06 L544.84,350.49 L543.41,351.92 L541.98,350.49Z" fill="#b8b8b8"/><path d="M545.14,347.40 L546.57,348.83 L545.14,350.26 L543.71,348.83Z" fill="#b8b8b8"/><path d="M546.62,345.51 L548.05,346.94 L546.62,348.37 L545.19,346.94Z" fill="#b8b8b8"/><path d="M548.06,343.59 L549.49,345.02 L548.06,346.45 L546.63,345.02Z" fill="#b8b8b8"/><path d="M549.74,341.88 L551.17,343.31 L549.74,344.74 L548.31,343.31Z" fill="#b8b8b8"/><path d="M551.63,340.40 L553.06,341.83 L551.63,343.26 L550.20,341.83Z" fill="#b8b8b8"/><path d="M553.50,338.90 L554.93,340.33 L553.50,341.76 L552.07,340.33Z" fill="#b8b8b8"/><path d="M555.37,337.40 L556.80,338.83 L555.37,340.26 L553.94,338.83Z" fill="#b8b8b8"/><path d="M557.26,335.92 L558.69,337.35 L557.26,338.78 L555.83,337.35Z" fill="#b8b8b8"/><path d="M559.10,334.38 L560.53,335.81 L559.10,337.24 L557.67,335.81Z" fill="#b8b8b8"/><path d="M561.00,332.91 L562.43,334.34 L561.00,335.77 L559.57,334.34Z" fill="#b8b8b8"/><path d="M564.21,331.31 L565.64,332.74 L564.21,334.17 L562.78,332.74Z" fill="#b8b8b8"/><path d="M567.71,330.50 L569.14,331.93 L567.71,333.36 L566.28,331.93Z" fill="#b8b8b8"/><path d="M571.30,330.26 L572.73,331.69 L571.30,333.12 L569.87,331.69Z" fill="#b8b8b8"/><path d="M574.90,330.36 L576.33,331.79 L574.90,333.22 L573.47,331.79Z" fill="#b8b8b8"/><path d="M578.49,330.50 L579.92,331.93 L578.49,333.36 L577.06,331.93Z" fill="#b8b8b8"/><path d="M582.09,330.67 L583.52,332.10 L582.09,333.53 L580.66,332.10Z" fill="#b8b8b8"/><path d="M585.68,330.91 L587.11,332.34 L585.68,333.77 L584.25,332.34Z" fill="#b8b8b8"/><path d="M589.26,331.31 L590.69,332.74 L589.26,334.17 L587.83,332.74Z" fill="#b8b8b8"/><path d="M592.86,331.40 L594.29,332.83 L592.86,334.26 L591.43,332.83Z" fill="#b8b8b8"/><path d="M596.42,330.95 L597.85,332.38 L596.42,333.81 L594.99,332.38Z" fill="#b8b8b8"/><path d="M599.84,329.83 L601.27,331.26 L599.84,332.69 L598.41,331.26Z" fill="#b8b8b8"/><path d="M603.12,328.36 L604.55,329.79 L603.12,331.22 L601.69,329.79Z" fill="#b8b8b8"/><path d="M606.28,326.63 L607.71,328.06 L606.28,329.49 L604.85,328.06Z" fill="#b8b8b8"/><path d="M608.65,324.03 L610.08,325.46 L608.65,326.89 L607.22,325.46Z" fill="#b8b8b8"/><path d="M609.74,320.61 L611.17,322.04 L609.74,323.47 L608.31,322.04Z" fill="#b8b8b8"/><path d="M610.59,317.11 L612.02,318.54 L610.59,319.97 L609.16,318.54Z" fill="#b8b8b8"/><path d="M611.29,313.58 L612.72,315.01 L611.29,316.44 L609.86,315.01Z" fill="#b8b8b8"/><path d="M612.12,310.07 L613.55,311.50 L612.12,312.93 L610.69,311.50Z" fill="#b8b8b8"/><path d="M612.83,306.54 L614.26,307.97 L612.83,309.40 L611.40,307.97Z" fill="#b8b8b8"/><path d="M613.43,303.00 L614.86,304.43 L613.43,305.86 L612.00,304.43Z" fill="#b8b8b8"/><path d="M613.97,299.44 L615.40,300.87 L613.97,302.30 L612.54,300.87Z" fill="#b8b8b8"/><path d="M614.41,295.86 L615.84,297.29 L614.41,298.72 L612.98,297.29Z" fill="#b8b8b8"/><path d="M614.91,292.30 L616.34,293.73 L614.91,295.16 L613.48,293.73Z" fill="#b8b8b8"/><path d="M615.57,288.76 L617.00,290.19 L615.57,291.62 L614.14,290.19Z" fill="#b8b8b8"/><path d="M616.31,285.24 L617.74,286.67 L616.31,288.10 L614.88,286.67Z" fill="#b8b8b8"/><path d="M617.05,281.71 L618.48,283.14 L617.05,284.57 L615.62,283.14Z" fill="#b8b8b8"/><path d="M617.72,278.18 L619.15,279.61 L617.72,281.04 L616.29,279.61Z" fill="#b8b8b8"/></g>
</svg>
</body></html>
